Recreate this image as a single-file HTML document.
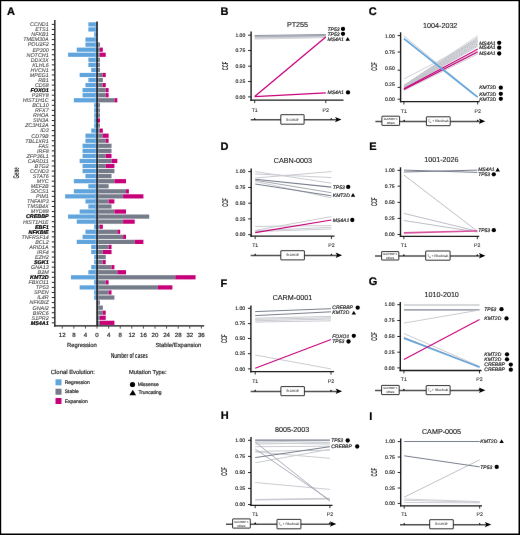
<!DOCTYPE html><html><head><meta charset="utf-8"><style>html,body{margin:0;padding:0;background:#fff;}svg{display:block;font-family:"Liberation Sans",sans-serif;text-rendering:geometricPrecision;}#w{width:520px;height:535px;overflow:hidden;will-change:transform;}</style></head><body>
<div id="w"><svg width="520" height="535" viewBox="0 0 520 535">
<defs><filter id="bl" x="0" y="0" width="520" height="535" filterUnits="userSpaceOnUse" color-interpolation-filters="sRGB"><feConvolveMatrix order="3" kernelMatrix="0.00087 0.02776 0.00087 0.02776 0.88549 0.02776 0.00087 0.02776 0.00087" preserveAlpha="false" edgeMode="duplicate"/></filter></defs>
<rect x="0" y="0" width="520" height="535" fill="#fff"/>
<g filter="url(#bl)">
<text x="6.90" y="14.78" font-size="11" text-anchor="start" font-weight="bold" font-style="normal" fill="#000" stroke="#000" stroke-width="0.24" >A</text>
<rect x="88.35" y="22.30" width="8.69" height="4.20" fill="#60a4dd" />
<rect x="94.94" y="22.30" width="1.30" height="4.20" fill="#74b5ec" />
<line x1="51.80" y1="24.40" x2="54.40" y2="24.40" stroke="#1a1a1a" stroke-width="0.95" />
<text x="48.70" y="26.26" font-size="5.4" text-anchor="end" font-weight="normal" font-style="italic" fill="#4d4d4d" stroke="#4d4d4d" stroke-width="0.1" >CCND1</text>
<rect x="88.35" y="27.36" width="8.69" height="4.20" fill="#60a4dd" />
<rect x="94.94" y="27.36" width="1.30" height="4.20" fill="#74b5ec" />
<line x1="51.80" y1="29.46" x2="54.40" y2="29.46" stroke="#1a1a1a" stroke-width="0.95" />
<text x="48.70" y="31.32" font-size="5.4" text-anchor="end" font-weight="normal" font-style="italic" fill="#4d4d4d" stroke="#4d4d4d" stroke-width="0.1" >ETS1</text>
<rect x="94.14" y="32.42" width="2.90" height="4.20" fill="#60a4dd" />
<rect x="94.94" y="32.42" width="1.30" height="4.20" fill="#74b5ec" />
<line x1="51.80" y1="34.52" x2="54.40" y2="34.52" stroke="#1a1a1a" stroke-width="0.95" />
<text x="48.70" y="36.37" font-size="5.4" text-anchor="end" font-weight="normal" font-style="italic" fill="#4d4d4d" stroke="#4d4d4d" stroke-width="0.1" >NFKB1</text>
<rect x="85.45" y="37.47" width="11.59" height="4.20" fill="#60a4dd" />
<rect x="94.94" y="37.47" width="1.30" height="4.20" fill="#74b5ec" />
<line x1="51.80" y1="39.57" x2="54.40" y2="39.57" stroke="#1a1a1a" stroke-width="0.95" />
<text x="48.70" y="41.43" font-size="5.4" text-anchor="end" font-weight="normal" font-style="italic" fill="#4d4d4d" stroke="#4d4d4d" stroke-width="0.1" >TMEM30A</text>
<rect x="85.45" y="42.53" width="11.59" height="4.20" fill="#60a4dd" />
<rect x="94.94" y="42.53" width="1.30" height="4.20" fill="#74b5ec" />
<rect x="97.04" y="42.53" width="2.90" height="4.20" fill="#767b89" />
<rect x="97.84" y="42.53" width="1.00" height="4.20" fill="#9296a3" />
<line x1="51.80" y1="44.63" x2="54.40" y2="44.63" stroke="#1a1a1a" stroke-width="0.95" />
<text x="48.70" y="46.49" font-size="5.4" text-anchor="end" font-weight="normal" font-style="italic" fill="#4d4d4d" stroke="#4d4d4d" stroke-width="0.1" >POU2F2</text>
<rect x="76.75" y="47.59" width="20.29" height="4.20" fill="#60a4dd" />
<rect x="94.94" y="47.59" width="1.30" height="4.20" fill="#74b5ec" />
<rect x="97.04" y="47.59" width="2.90" height="4.20" fill="#767b89" />
<rect x="97.84" y="47.59" width="1.00" height="4.20" fill="#9296a3" />
<rect x="99.94" y="47.59" width="2.90" height="4.20" fill="#c7007a" />
<line x1="51.80" y1="49.69" x2="54.40" y2="49.69" stroke="#1a1a1a" stroke-width="0.95" />
<text x="48.70" y="51.55" font-size="5.4" text-anchor="end" font-weight="normal" font-style="italic" fill="#4d4d4d" stroke="#4d4d4d" stroke-width="0.1" >EP300</text>
<rect x="68.06" y="52.65" width="28.98" height="4.20" fill="#60a4dd" />
<rect x="94.94" y="52.65" width="1.30" height="4.20" fill="#74b5ec" />
<rect x="97.04" y="52.65" width="2.90" height="4.20" fill="#767b89" />
<rect x="97.84" y="52.65" width="1.00" height="4.20" fill="#9296a3" />
<rect x="99.94" y="52.65" width="5.80" height="4.20" fill="#c7007a" />
<line x1="51.80" y1="54.75" x2="54.40" y2="54.75" stroke="#1a1a1a" stroke-width="0.95" />
<text x="48.70" y="56.61" font-size="5.4" text-anchor="end" font-weight="normal" font-style="italic" fill="#4d4d4d" stroke="#4d4d4d" stroke-width="0.1" >NOTCH1</text>
<rect x="88.35" y="57.71" width="8.69" height="4.20" fill="#60a4dd" />
<rect x="94.94" y="57.71" width="1.30" height="4.20" fill="#74b5ec" />
<rect x="97.04" y="57.71" width="2.90" height="4.20" fill="#767b89" />
<rect x="97.84" y="57.71" width="1.00" height="4.20" fill="#9296a3" />
<line x1="51.80" y1="59.81" x2="54.40" y2="59.81" stroke="#1a1a1a" stroke-width="0.95" />
<text x="48.70" y="61.66" font-size="5.4" text-anchor="end" font-weight="normal" font-style="italic" fill="#4d4d4d" stroke="#4d4d4d" stroke-width="0.1" >DDX3X</text>
<rect x="88.35" y="62.76" width="8.69" height="4.20" fill="#60a4dd" />
<rect x="94.94" y="62.76" width="1.30" height="4.20" fill="#74b5ec" />
<rect x="97.04" y="62.76" width="2.90" height="4.20" fill="#767b89" />
<rect x="97.84" y="62.76" width="1.00" height="4.20" fill="#9296a3" />
<line x1="51.80" y1="64.86" x2="54.40" y2="64.86" stroke="#1a1a1a" stroke-width="0.95" />
<text x="48.70" y="66.72" font-size="5.4" text-anchor="end" font-weight="normal" font-style="italic" fill="#4d4d4d" stroke="#4d4d4d" stroke-width="0.1" >KLHL6</text>
<rect x="91.24" y="67.82" width="5.80" height="4.20" fill="#60a4dd" />
<rect x="94.94" y="67.82" width="1.30" height="4.20" fill="#74b5ec" />
<rect x="97.04" y="67.82" width="2.90" height="4.20" fill="#767b89" />
<rect x="97.84" y="67.82" width="1.00" height="4.20" fill="#9296a3" />
<line x1="51.80" y1="69.92" x2="54.40" y2="69.92" stroke="#1a1a1a" stroke-width="0.95" />
<text x="48.70" y="71.78" font-size="5.4" text-anchor="end" font-weight="normal" font-style="italic" fill="#4d4d4d" stroke="#4d4d4d" stroke-width="0.1" >HVCN1</text>
<rect x="79.65" y="72.88" width="17.39" height="4.20" fill="#60a4dd" />
<rect x="94.94" y="72.88" width="1.30" height="4.20" fill="#74b5ec" />
<rect x="97.04" y="72.88" width="5.80" height="4.20" fill="#767b89" />
<rect x="97.84" y="72.88" width="1.00" height="4.20" fill="#9296a3" />
<rect x="102.84" y="72.88" width="2.90" height="4.20" fill="#c7007a" />
<line x1="51.80" y1="74.98" x2="54.40" y2="74.98" stroke="#1a1a1a" stroke-width="0.95" />
<text x="48.70" y="76.84" font-size="5.4" text-anchor="end" font-weight="normal" font-style="italic" fill="#4d4d4d" stroke="#4d4d4d" stroke-width="0.1" >MPEG1</text>
<rect x="88.35" y="77.94" width="8.69" height="4.20" fill="#60a4dd" />
<rect x="94.94" y="77.94" width="1.30" height="4.20" fill="#74b5ec" />
<rect x="97.04" y="77.94" width="5.80" height="4.20" fill="#767b89" />
<rect x="97.84" y="77.94" width="1.00" height="4.20" fill="#9296a3" />
<line x1="51.80" y1="80.04" x2="54.40" y2="80.04" stroke="#1a1a1a" stroke-width="0.95" />
<text x="48.70" y="81.90" font-size="5.4" text-anchor="end" font-weight="normal" font-style="italic" fill="#4d4d4d" stroke="#4d4d4d" stroke-width="0.1" >RB1</text>
<rect x="85.45" y="83.00" width="11.59" height="4.20" fill="#60a4dd" />
<rect x="94.94" y="83.00" width="1.30" height="4.20" fill="#74b5ec" />
<rect x="97.04" y="83.00" width="5.80" height="4.20" fill="#767b89" />
<rect x="97.84" y="83.00" width="1.00" height="4.20" fill="#9296a3" />
<rect x="102.84" y="83.00" width="2.90" height="4.20" fill="#c7007a" />
<line x1="51.80" y1="85.10" x2="54.40" y2="85.10" stroke="#1a1a1a" stroke-width="0.95" />
<text x="48.70" y="86.95" font-size="5.4" text-anchor="end" font-weight="normal" font-style="italic" fill="#4d4d4d" stroke="#4d4d4d" stroke-width="0.1" >CD58</text>
<rect x="82.55" y="88.05" width="14.49" height="4.20" fill="#60a4dd" />
<rect x="94.94" y="88.05" width="1.30" height="4.20" fill="#74b5ec" />
<rect x="97.04" y="88.05" width="8.69" height="4.20" fill="#767b89" />
<rect x="97.84" y="88.05" width="1.00" height="4.20" fill="#9296a3" />
<rect x="105.73" y="88.05" width="2.90" height="4.20" fill="#c7007a" />
<line x1="51.80" y1="90.15" x2="54.40" y2="90.15" stroke="#1a1a1a" stroke-width="0.95" />
<text x="48.70" y="92.01" font-size="5.4" text-anchor="end" font-weight="bold" font-style="italic" fill="#000" stroke="#000" stroke-width="0.22" >FOXO1</text>
<rect x="82.55" y="93.11" width="14.49" height="4.20" fill="#60a4dd" />
<rect x="94.94" y="93.11" width="1.30" height="4.20" fill="#74b5ec" />
<rect x="97.04" y="93.11" width="8.69" height="4.20" fill="#767b89" />
<rect x="97.84" y="93.11" width="1.00" height="4.20" fill="#9296a3" />
<rect x="105.73" y="93.11" width="2.90" height="4.20" fill="#c7007a" />
<line x1="51.80" y1="95.21" x2="54.40" y2="95.21" stroke="#1a1a1a" stroke-width="0.95" />
<text x="48.70" y="97.07" font-size="5.4" text-anchor="end" font-weight="normal" font-style="italic" fill="#4d4d4d" stroke="#4d4d4d" stroke-width="0.1" >P2RY8</text>
<rect x="73.86" y="98.17" width="23.18" height="4.20" fill="#60a4dd" />
<rect x="94.94" y="98.17" width="1.30" height="4.20" fill="#74b5ec" />
<rect x="97.04" y="98.17" width="17.39" height="4.20" fill="#767b89" />
<rect x="97.84" y="98.17" width="1.00" height="4.20" fill="#9296a3" />
<rect x="114.43" y="98.17" width="2.90" height="4.20" fill="#c7007a" />
<line x1="51.80" y1="100.27" x2="54.40" y2="100.27" stroke="#1a1a1a" stroke-width="0.95" />
<text x="48.70" y="102.13" font-size="5.4" text-anchor="end" font-weight="normal" font-style="italic" fill="#4d4d4d" stroke="#4d4d4d" stroke-width="0.1" >HIST1H1C</text>
<rect x="94.14" y="103.23" width="2.90" height="4.20" fill="#60a4dd" />
<rect x="94.94" y="103.23" width="1.30" height="4.20" fill="#74b5ec" />
<rect x="97.04" y="103.23" width="2.90" height="4.20" fill="#767b89" />
<rect x="97.84" y="103.23" width="1.00" height="4.20" fill="#9296a3" />
<line x1="51.80" y1="105.33" x2="54.40" y2="105.33" stroke="#1a1a1a" stroke-width="0.95" />
<text x="48.70" y="107.19" font-size="5.4" text-anchor="end" font-weight="normal" font-style="italic" fill="#4d4d4d" stroke="#4d4d4d" stroke-width="0.1" >BCL10</text>
<rect x="94.14" y="108.29" width="2.90" height="4.20" fill="#60a4dd" />
<rect x="94.94" y="108.29" width="1.30" height="4.20" fill="#74b5ec" />
<rect x="97.04" y="108.29" width="2.90" height="4.20" fill="#767b89" />
<rect x="97.84" y="108.29" width="1.00" height="4.20" fill="#9296a3" />
<line x1="51.80" y1="110.39" x2="54.40" y2="110.39" stroke="#1a1a1a" stroke-width="0.95" />
<text x="48.70" y="112.24" font-size="5.4" text-anchor="end" font-weight="normal" font-style="italic" fill="#4d4d4d" stroke="#4d4d4d" stroke-width="0.1" >RFX7</text>
<rect x="94.14" y="113.34" width="2.90" height="4.20" fill="#60a4dd" />
<rect x="94.94" y="113.34" width="1.30" height="4.20" fill="#74b5ec" />
<rect x="97.04" y="113.34" width="2.90" height="4.20" fill="#767b89" />
<rect x="97.84" y="113.34" width="1.00" height="4.20" fill="#9296a3" />
<line x1="51.80" y1="115.44" x2="54.40" y2="115.44" stroke="#1a1a1a" stroke-width="0.95" />
<text x="48.70" y="117.30" font-size="5.4" text-anchor="end" font-weight="normal" font-style="italic" fill="#4d4d4d" stroke="#4d4d4d" stroke-width="0.1" >RHOA</text>
<rect x="94.14" y="118.40" width="2.90" height="4.20" fill="#60a4dd" />
<rect x="94.94" y="118.40" width="1.30" height="4.20" fill="#74b5ec" />
<rect x="97.04" y="118.40" width="2.90" height="4.20" fill="#c7007a" />
<line x1="51.80" y1="120.50" x2="54.40" y2="120.50" stroke="#1a1a1a" stroke-width="0.95" />
<text x="48.70" y="122.36" font-size="5.4" text-anchor="end" font-weight="normal" font-style="italic" fill="#4d4d4d" stroke="#4d4d4d" stroke-width="0.1" >SIN3A</text>
<rect x="94.14" y="123.46" width="2.90" height="4.20" fill="#60a4dd" />
<rect x="94.94" y="123.46" width="1.30" height="4.20" fill="#74b5ec" />
<rect x="97.04" y="123.46" width="2.90" height="4.20" fill="#767b89" />
<rect x="97.84" y="123.46" width="1.00" height="4.20" fill="#9296a3" />
<line x1="51.80" y1="125.56" x2="54.40" y2="125.56" stroke="#1a1a1a" stroke-width="0.95" />
<text x="48.70" y="127.42" font-size="5.4" text-anchor="end" font-weight="normal" font-style="italic" fill="#4d4d4d" stroke="#4d4d4d" stroke-width="0.1" >ZC3H12A</text>
<rect x="91.24" y="128.52" width="5.80" height="4.20" fill="#60a4dd" />
<rect x="94.94" y="128.52" width="1.30" height="4.20" fill="#74b5ec" />
<rect x="97.04" y="128.52" width="2.90" height="4.20" fill="#767b89" />
<rect x="97.84" y="128.52" width="1.00" height="4.20" fill="#9296a3" />
<rect x="99.94" y="128.52" width="2.90" height="4.20" fill="#c7007a" />
<line x1="51.80" y1="130.62" x2="54.40" y2="130.62" stroke="#1a1a1a" stroke-width="0.95" />
<text x="48.70" y="132.48" font-size="5.4" text-anchor="end" font-weight="normal" font-style="italic" fill="#4d4d4d" stroke="#4d4d4d" stroke-width="0.1" >ID3</text>
<rect x="85.45" y="133.58" width="11.59" height="4.20" fill="#60a4dd" />
<rect x="94.94" y="133.58" width="1.30" height="4.20" fill="#74b5ec" />
<rect x="97.04" y="133.58" width="5.80" height="4.20" fill="#767b89" />
<rect x="97.84" y="133.58" width="1.00" height="4.20" fill="#9296a3" />
<rect x="102.84" y="133.58" width="5.80" height="4.20" fill="#c7007a" />
<line x1="51.80" y1="135.68" x2="54.40" y2="135.68" stroke="#1a1a1a" stroke-width="0.95" />
<text x="48.70" y="137.53" font-size="5.4" text-anchor="end" font-weight="normal" font-style="italic" fill="#4d4d4d" stroke="#4d4d4d" stroke-width="0.1" >CD79B</text>
<rect x="85.45" y="138.63" width="11.59" height="4.20" fill="#60a4dd" />
<rect x="94.94" y="138.63" width="1.30" height="4.20" fill="#74b5ec" />
<rect x="97.04" y="138.63" width="8.69" height="4.20" fill="#767b89" />
<rect x="97.84" y="138.63" width="1.00" height="4.20" fill="#9296a3" />
<rect x="105.73" y="138.63" width="2.90" height="4.20" fill="#c7007a" />
<line x1="51.80" y1="140.73" x2="54.40" y2="140.73" stroke="#1a1a1a" stroke-width="0.95" />
<text x="48.70" y="142.59" font-size="5.4" text-anchor="end" font-weight="normal" font-style="italic" fill="#4d4d4d" stroke="#4d4d4d" stroke-width="0.1" >TBL1XR1</text>
<rect x="82.55" y="143.69" width="14.49" height="4.20" fill="#60a4dd" />
<rect x="94.94" y="143.69" width="1.30" height="4.20" fill="#74b5ec" />
<rect x="97.04" y="143.69" width="14.49" height="4.20" fill="#767b89" />
<rect x="97.84" y="143.69" width="1.00" height="4.20" fill="#9296a3" />
<line x1="51.80" y1="145.79" x2="54.40" y2="145.79" stroke="#1a1a1a" stroke-width="0.95" />
<text x="48.70" y="147.65" font-size="5.4" text-anchor="end" font-weight="normal" font-style="italic" fill="#4d4d4d" stroke="#4d4d4d" stroke-width="0.1" >FAS</text>
<rect x="82.55" y="148.75" width="14.49" height="4.20" fill="#60a4dd" />
<rect x="94.94" y="148.75" width="1.30" height="4.20" fill="#74b5ec" />
<rect x="97.04" y="148.75" width="14.49" height="4.20" fill="#767b89" />
<rect x="97.84" y="148.75" width="1.00" height="4.20" fill="#9296a3" />
<line x1="51.80" y1="150.85" x2="54.40" y2="150.85" stroke="#1a1a1a" stroke-width="0.95" />
<text x="48.70" y="152.71" font-size="5.4" text-anchor="end" font-weight="normal" font-style="italic" fill="#4d4d4d" stroke="#4d4d4d" stroke-width="0.1" >IRF8</text>
<rect x="82.55" y="153.81" width="14.49" height="4.20" fill="#60a4dd" />
<rect x="94.94" y="153.81" width="1.30" height="4.20" fill="#74b5ec" />
<rect x="97.04" y="153.81" width="8.69" height="4.20" fill="#767b89" />
<rect x="97.84" y="153.81" width="1.00" height="4.20" fill="#9296a3" />
<rect x="105.73" y="153.81" width="5.80" height="4.20" fill="#c7007a" />
<line x1="51.80" y1="155.91" x2="54.40" y2="155.91" stroke="#1a1a1a" stroke-width="0.95" />
<text x="48.70" y="157.77" font-size="5.4" text-anchor="end" font-weight="normal" font-style="italic" fill="#4d4d4d" stroke="#4d4d4d" stroke-width="0.1" >ZFP36L1</text>
<rect x="79.65" y="158.87" width="17.39" height="4.20" fill="#60a4dd" />
<rect x="94.94" y="158.87" width="1.30" height="4.20" fill="#74b5ec" />
<rect x="97.04" y="158.87" width="14.49" height="4.20" fill="#767b89" />
<rect x="97.84" y="158.87" width="1.00" height="4.20" fill="#9296a3" />
<rect x="111.53" y="158.87" width="5.80" height="4.20" fill="#c7007a" />
<line x1="51.80" y1="160.97" x2="54.40" y2="160.97" stroke="#1a1a1a" stroke-width="0.95" />
<text x="48.70" y="162.82" font-size="5.4" text-anchor="end" font-weight="normal" font-style="italic" fill="#4d4d4d" stroke="#4d4d4d" stroke-width="0.1" >CARD11</text>
<rect x="82.55" y="163.92" width="14.49" height="4.20" fill="#60a4dd" />
<rect x="94.94" y="163.92" width="1.30" height="4.20" fill="#74b5ec" />
<rect x="97.04" y="163.92" width="8.69" height="4.20" fill="#767b89" />
<rect x="97.84" y="163.92" width="1.00" height="4.20" fill="#9296a3" />
<rect x="105.73" y="163.92" width="8.69" height="4.20" fill="#c7007a" />
<line x1="51.80" y1="166.02" x2="54.40" y2="166.02" stroke="#1a1a1a" stroke-width="0.95" />
<text x="48.70" y="167.88" font-size="5.4" text-anchor="end" font-weight="normal" font-style="italic" fill="#4d4d4d" stroke="#4d4d4d" stroke-width="0.1" >BTG2</text>
<rect x="82.55" y="168.98" width="14.49" height="4.20" fill="#60a4dd" />
<rect x="94.94" y="168.98" width="1.30" height="4.20" fill="#74b5ec" />
<rect x="97.04" y="168.98" width="17.39" height="4.20" fill="#767b89" />
<rect x="97.84" y="168.98" width="1.00" height="4.20" fill="#9296a3" />
<line x1="51.80" y1="171.08" x2="54.40" y2="171.08" stroke="#1a1a1a" stroke-width="0.95" />
<text x="48.70" y="172.94" font-size="5.4" text-anchor="end" font-weight="normal" font-style="italic" fill="#4d4d4d" stroke="#4d4d4d" stroke-width="0.1" >CCND3</text>
<rect x="85.45" y="174.04" width="11.59" height="4.20" fill="#60a4dd" />
<rect x="94.94" y="174.04" width="1.30" height="4.20" fill="#74b5ec" />
<rect x="97.04" y="174.04" width="14.49" height="4.20" fill="#767b89" />
<rect x="97.84" y="174.04" width="1.00" height="4.20" fill="#9296a3" />
<line x1="51.80" y1="176.14" x2="54.40" y2="176.14" stroke="#1a1a1a" stroke-width="0.95" />
<text x="48.70" y="178.00" font-size="5.4" text-anchor="end" font-weight="normal" font-style="italic" fill="#4d4d4d" stroke="#4d4d4d" stroke-width="0.1" >STAT6</text>
<rect x="73.86" y="179.10" width="23.18" height="4.20" fill="#60a4dd" />
<rect x="94.94" y="179.10" width="1.30" height="4.20" fill="#74b5ec" />
<rect x="97.04" y="179.10" width="17.39" height="4.20" fill="#767b89" />
<rect x="97.84" y="179.10" width="1.00" height="4.20" fill="#9296a3" />
<rect x="114.43" y="179.10" width="11.59" height="4.20" fill="#c7007a" />
<line x1="51.80" y1="181.20" x2="54.40" y2="181.20" stroke="#1a1a1a" stroke-width="0.95" />
<text x="48.70" y="183.06" font-size="5.4" text-anchor="end" font-weight="normal" font-style="italic" fill="#4d4d4d" stroke="#4d4d4d" stroke-width="0.1" >MYC</text>
<rect x="88.35" y="184.16" width="8.69" height="4.20" fill="#60a4dd" />
<rect x="94.94" y="184.16" width="1.30" height="4.20" fill="#74b5ec" />
<rect x="97.04" y="184.16" width="11.59" height="4.20" fill="#767b89" />
<rect x="97.84" y="184.16" width="1.00" height="4.20" fill="#9296a3" />
<line x1="51.80" y1="186.26" x2="54.40" y2="186.26" stroke="#1a1a1a" stroke-width="0.95" />
<text x="48.70" y="188.11" font-size="5.4" text-anchor="end" font-weight="normal" font-style="italic" fill="#4d4d4d" stroke="#4d4d4d" stroke-width="0.1" >MEF2B</text>
<rect x="73.86" y="189.21" width="23.18" height="4.20" fill="#60a4dd" />
<rect x="94.94" y="189.21" width="1.30" height="4.20" fill="#74b5ec" />
<rect x="97.04" y="189.21" width="28.98" height="4.20" fill="#767b89" />
<rect x="97.84" y="189.21" width="1.00" height="4.20" fill="#9296a3" />
<rect x="126.02" y="189.21" width="2.90" height="4.20" fill="#c7007a" />
<line x1="51.80" y1="191.31" x2="54.40" y2="191.31" stroke="#1a1a1a" stroke-width="0.95" />
<text x="48.70" y="193.17" font-size="5.4" text-anchor="end" font-weight="normal" font-style="italic" fill="#4d4d4d" stroke="#4d4d4d" stroke-width="0.1" >SOCS1</text>
<rect x="65.16" y="194.27" width="31.88" height="4.20" fill="#60a4dd" />
<rect x="94.94" y="194.27" width="1.30" height="4.20" fill="#74b5ec" />
<rect x="97.04" y="194.27" width="26.08" height="4.20" fill="#767b89" />
<rect x="97.84" y="194.27" width="1.00" height="4.20" fill="#9296a3" />
<rect x="123.12" y="194.27" width="20.29" height="4.20" fill="#c7007a" />
<line x1="51.80" y1="196.37" x2="54.40" y2="196.37" stroke="#1a1a1a" stroke-width="0.95" />
<text x="48.70" y="198.23" font-size="5.4" text-anchor="end" font-weight="normal" font-style="italic" fill="#4d4d4d" stroke="#4d4d4d" stroke-width="0.1" >PIM1</text>
<rect x="85.45" y="199.33" width="11.59" height="4.20" fill="#60a4dd" />
<rect x="94.94" y="199.33" width="1.30" height="4.20" fill="#74b5ec" />
<rect x="97.04" y="199.33" width="11.59" height="4.20" fill="#767b89" />
<rect x="97.84" y="199.33" width="1.00" height="4.20" fill="#9296a3" />
<rect x="108.63" y="199.33" width="5.80" height="4.20" fill="#c7007a" />
<line x1="51.80" y1="201.43" x2="54.40" y2="201.43" stroke="#1a1a1a" stroke-width="0.95" />
<text x="48.70" y="203.29" font-size="5.4" text-anchor="end" font-weight="normal" font-style="italic" fill="#4d4d4d" stroke="#4d4d4d" stroke-width="0.1" >TNFAIP3</text>
<rect x="88.35" y="204.39" width="8.69" height="4.20" fill="#60a4dd" />
<rect x="94.94" y="204.39" width="1.30" height="4.20" fill="#74b5ec" />
<rect x="97.04" y="204.39" width="14.49" height="4.20" fill="#767b89" />
<rect x="97.84" y="204.39" width="1.00" height="4.20" fill="#9296a3" />
<line x1="51.80" y1="206.49" x2="54.40" y2="206.49" stroke="#1a1a1a" stroke-width="0.95" />
<text x="48.70" y="208.35" font-size="5.4" text-anchor="end" font-weight="normal" font-style="italic" fill="#4d4d4d" stroke="#4d4d4d" stroke-width="0.1" >TMSB4X</text>
<rect x="79.65" y="209.45" width="17.39" height="4.20" fill="#60a4dd" />
<rect x="94.94" y="209.45" width="1.30" height="4.20" fill="#74b5ec" />
<rect x="97.04" y="209.45" width="17.39" height="4.20" fill="#767b89" />
<rect x="97.84" y="209.45" width="1.00" height="4.20" fill="#9296a3" />
<rect x="114.43" y="209.45" width="11.59" height="4.20" fill="#c7007a" />
<line x1="51.80" y1="211.55" x2="54.40" y2="211.55" stroke="#1a1a1a" stroke-width="0.95" />
<text x="48.70" y="213.40" font-size="5.4" text-anchor="end" font-weight="normal" font-style="italic" fill="#4d4d4d" stroke="#4d4d4d" stroke-width="0.1" >MYD88</text>
<rect x="68.06" y="214.50" width="28.98" height="4.20" fill="#60a4dd" />
<rect x="94.94" y="214.50" width="1.30" height="4.20" fill="#74b5ec" />
<rect x="97.04" y="214.50" width="52.16" height="4.20" fill="#767b89" />
<rect x="97.84" y="214.50" width="1.00" height="4.20" fill="#9296a3" />
<line x1="51.80" y1="216.60" x2="54.40" y2="216.60" stroke="#1a1a1a" stroke-width="0.95" />
<text x="48.70" y="218.46" font-size="5.4" text-anchor="end" font-weight="bold" font-style="italic" fill="#000" stroke="#000" stroke-width="0.22" >CREBBP</text>
<rect x="76.75" y="219.56" width="20.29" height="4.20" fill="#60a4dd" />
<rect x="94.94" y="219.56" width="1.30" height="4.20" fill="#74b5ec" />
<rect x="97.04" y="219.56" width="26.08" height="4.20" fill="#767b89" />
<rect x="97.84" y="219.56" width="1.00" height="4.20" fill="#9296a3" />
<rect x="123.12" y="219.56" width="11.59" height="4.20" fill="#c7007a" />
<line x1="51.80" y1="221.66" x2="54.40" y2="221.66" stroke="#1a1a1a" stroke-width="0.95" />
<text x="48.70" y="223.52" font-size="5.4" text-anchor="end" font-weight="normal" font-style="italic" fill="#4d4d4d" stroke="#4d4d4d" stroke-width="0.1" >HIST1H1E</text>
<rect x="94.14" y="224.62" width="2.90" height="4.20" fill="#60a4dd" />
<rect x="94.94" y="224.62" width="1.30" height="4.20" fill="#74b5ec" />
<rect x="97.04" y="224.62" width="2.90" height="4.20" fill="#767b89" />
<rect x="97.84" y="224.62" width="1.00" height="4.20" fill="#9296a3" />
<rect x="99.94" y="224.62" width="2.90" height="4.20" fill="#c7007a" />
<line x1="51.80" y1="226.72" x2="54.40" y2="226.72" stroke="#1a1a1a" stroke-width="0.95" />
<text x="48.70" y="228.58" font-size="5.4" text-anchor="end" font-weight="bold" font-style="italic" fill="#000" stroke="#000" stroke-width="0.22" >EBF1</text>
<rect x="85.45" y="229.68" width="11.59" height="4.20" fill="#60a4dd" />
<rect x="94.94" y="229.68" width="1.30" height="4.20" fill="#74b5ec" />
<rect x="97.04" y="229.68" width="20.29" height="4.20" fill="#767b89" />
<rect x="97.84" y="229.68" width="1.00" height="4.20" fill="#9296a3" />
<rect x="117.33" y="229.68" width="2.90" height="4.20" fill="#c7007a" />
<line x1="51.80" y1="231.78" x2="54.40" y2="231.78" stroke="#1a1a1a" stroke-width="0.95" />
<text x="48.70" y="233.64" font-size="5.4" text-anchor="end" font-weight="bold" font-style="italic" fill="#000" stroke="#000" stroke-width="0.22" >NFKBIE</text>
<rect x="82.55" y="234.74" width="14.49" height="4.20" fill="#60a4dd" />
<rect x="94.94" y="234.74" width="1.30" height="4.20" fill="#74b5ec" />
<rect x="97.04" y="234.74" width="26.08" height="4.20" fill="#767b89" />
<rect x="97.84" y="234.74" width="1.00" height="4.20" fill="#9296a3" />
<rect x="123.12" y="234.74" width="2.90" height="4.20" fill="#c7007a" />
<line x1="51.80" y1="236.84" x2="54.40" y2="236.84" stroke="#1a1a1a" stroke-width="0.95" />
<text x="48.70" y="238.69" font-size="5.4" text-anchor="end" font-weight="normal" font-style="italic" fill="#4d4d4d" stroke="#4d4d4d" stroke-width="0.1" >TNFRSF14</text>
<rect x="76.75" y="239.79" width="20.29" height="4.20" fill="#60a4dd" />
<rect x="94.94" y="239.79" width="1.30" height="4.20" fill="#74b5ec" />
<rect x="97.04" y="239.79" width="37.67" height="4.20" fill="#767b89" />
<rect x="97.84" y="239.79" width="1.00" height="4.20" fill="#9296a3" />
<rect x="134.71" y="239.79" width="8.69" height="4.20" fill="#c7007a" />
<line x1="51.80" y1="241.89" x2="54.40" y2="241.89" stroke="#1a1a1a" stroke-width="0.95" />
<text x="48.70" y="243.75" font-size="5.4" text-anchor="end" font-weight="normal" font-style="italic" fill="#4d4d4d" stroke="#4d4d4d" stroke-width="0.1" >BCL2</text>
<rect x="91.24" y="244.85" width="5.80" height="4.20" fill="#60a4dd" />
<rect x="94.94" y="244.85" width="1.30" height="4.20" fill="#74b5ec" />
<rect x="97.04" y="244.85" width="11.59" height="4.20" fill="#767b89" />
<rect x="97.84" y="244.85" width="1.00" height="4.20" fill="#9296a3" />
<rect x="108.63" y="244.85" width="2.90" height="4.20" fill="#c7007a" />
<line x1="51.80" y1="246.95" x2="54.40" y2="246.95" stroke="#1a1a1a" stroke-width="0.95" />
<text x="48.70" y="248.81" font-size="5.4" text-anchor="end" font-weight="normal" font-style="italic" fill="#4d4d4d" stroke="#4d4d4d" stroke-width="0.1" >ARID1A</text>
<rect x="91.24" y="249.91" width="5.80" height="4.20" fill="#60a4dd" />
<rect x="94.94" y="249.91" width="1.30" height="4.20" fill="#74b5ec" />
<rect x="97.04" y="249.91" width="5.80" height="4.20" fill="#767b89" />
<rect x="97.84" y="249.91" width="1.00" height="4.20" fill="#9296a3" />
<rect x="102.84" y="249.91" width="8.69" height="4.20" fill="#c7007a" />
<line x1="51.80" y1="252.01" x2="54.40" y2="252.01" stroke="#1a1a1a" stroke-width="0.95" />
<text x="48.70" y="253.87" font-size="5.4" text-anchor="end" font-weight="normal" font-style="italic" fill="#4d4d4d" stroke="#4d4d4d" stroke-width="0.1" >IRF4</text>
<rect x="94.14" y="254.97" width="2.90" height="4.20" fill="#60a4dd" />
<rect x="94.94" y="254.97" width="1.30" height="4.20" fill="#74b5ec" />
<rect x="97.04" y="254.97" width="8.69" height="4.20" fill="#767b89" />
<rect x="97.84" y="254.97" width="1.00" height="4.20" fill="#9296a3" />
<line x1="51.80" y1="257.07" x2="54.40" y2="257.07" stroke="#1a1a1a" stroke-width="0.95" />
<text x="48.70" y="258.93" font-size="5.4" text-anchor="end" font-weight="normal" font-style="italic" fill="#4d4d4d" stroke="#4d4d4d" stroke-width="0.1" >EZH2</text>
<rect x="94.14" y="260.03" width="2.90" height="4.20" fill="#60a4dd" />
<rect x="94.94" y="260.03" width="1.30" height="4.20" fill="#74b5ec" />
<rect x="97.04" y="260.03" width="5.80" height="4.20" fill="#767b89" />
<rect x="97.84" y="260.03" width="1.00" height="4.20" fill="#9296a3" />
<rect x="102.84" y="260.03" width="2.90" height="4.20" fill="#c7007a" />
<line x1="51.80" y1="262.13" x2="54.40" y2="262.13" stroke="#1a1a1a" stroke-width="0.95" />
<text x="48.70" y="263.98" font-size="5.4" text-anchor="end" font-weight="bold" font-style="italic" fill="#000" stroke="#000" stroke-width="0.22" >SGK1</text>
<rect x="91.24" y="265.08" width="5.80" height="4.20" fill="#60a4dd" />
<rect x="94.94" y="265.08" width="1.30" height="4.20" fill="#74b5ec" />
<rect x="97.04" y="265.08" width="14.49" height="4.20" fill="#767b89" />
<rect x="97.84" y="265.08" width="1.00" height="4.20" fill="#9296a3" />
<rect x="111.53" y="265.08" width="2.90" height="4.20" fill="#c7007a" />
<line x1="51.80" y1="267.18" x2="54.40" y2="267.18" stroke="#1a1a1a" stroke-width="0.95" />
<text x="48.70" y="269.04" font-size="5.4" text-anchor="end" font-weight="normal" font-style="italic" fill="#4d4d4d" stroke="#4d4d4d" stroke-width="0.1" >GNA13</text>
<rect x="88.35" y="270.14" width="8.69" height="4.20" fill="#60a4dd" />
<rect x="94.94" y="270.14" width="1.30" height="4.20" fill="#74b5ec" />
<rect x="97.04" y="270.14" width="20.29" height="4.20" fill="#767b89" />
<rect x="97.84" y="270.14" width="1.00" height="4.20" fill="#9296a3" />
<rect x="117.33" y="270.14" width="8.69" height="4.20" fill="#c7007a" />
<line x1="51.80" y1="272.24" x2="54.40" y2="272.24" stroke="#1a1a1a" stroke-width="0.95" />
<text x="48.70" y="274.10" font-size="5.4" text-anchor="end" font-weight="normal" font-style="italic" fill="#4d4d4d" stroke="#4d4d4d" stroke-width="0.1" >B2M</text>
<rect x="70.96" y="275.20" width="26.08" height="4.20" fill="#60a4dd" />
<rect x="94.94" y="275.20" width="1.30" height="4.20" fill="#74b5ec" />
<rect x="97.04" y="275.20" width="78.25" height="4.20" fill="#767b89" />
<rect x="97.84" y="275.20" width="1.00" height="4.20" fill="#9296a3" />
<rect x="175.29" y="275.20" width="20.29" height="4.20" fill="#c7007a" />
<line x1="51.80" y1="277.30" x2="54.40" y2="277.30" stroke="#1a1a1a" stroke-width="0.95" />
<text x="48.70" y="279.16" font-size="5.4" text-anchor="end" font-weight="bold" font-style="italic" fill="#000" stroke="#000" stroke-width="0.22" >KMT2D</text>
<rect x="94.14" y="280.26" width="2.90" height="4.20" fill="#60a4dd" />
<rect x="94.94" y="280.26" width="1.30" height="4.20" fill="#74b5ec" />
<rect x="97.04" y="280.26" width="8.69" height="4.20" fill="#767b89" />
<rect x="97.84" y="280.26" width="1.00" height="4.20" fill="#9296a3" />
<rect x="105.73" y="280.26" width="2.90" height="4.20" fill="#c7007a" />
<line x1="51.80" y1="282.36" x2="54.40" y2="282.36" stroke="#1a1a1a" stroke-width="0.95" />
<text x="48.70" y="284.22" font-size="5.4" text-anchor="end" font-weight="normal" font-style="italic" fill="#4d4d4d" stroke="#4d4d4d" stroke-width="0.1" >FBXO11</text>
<rect x="79.65" y="285.32" width="17.39" height="4.20" fill="#60a4dd" />
<rect x="94.94" y="285.32" width="1.30" height="4.20" fill="#74b5ec" />
<rect x="97.04" y="285.32" width="60.86" height="4.20" fill="#767b89" />
<rect x="97.84" y="285.32" width="1.00" height="4.20" fill="#9296a3" />
<rect x="157.90" y="285.32" width="14.49" height="4.20" fill="#c7007a" />
<line x1="51.80" y1="287.42" x2="54.40" y2="287.42" stroke="#1a1a1a" stroke-width="0.95" />
<text x="48.70" y="289.27" font-size="5.4" text-anchor="end" font-weight="normal" font-style="italic" fill="#4d4d4d" stroke="#4d4d4d" stroke-width="0.1" >TP53</text>
<rect x="94.14" y="290.37" width="2.90" height="4.20" fill="#60a4dd" />
<rect x="94.94" y="290.37" width="1.30" height="4.20" fill="#74b5ec" />
<rect x="97.04" y="290.37" width="11.59" height="4.20" fill="#767b89" />
<rect x="97.84" y="290.37" width="1.00" height="4.20" fill="#9296a3" />
<rect x="108.63" y="290.37" width="2.90" height="4.20" fill="#c7007a" />
<line x1="51.80" y1="292.47" x2="54.40" y2="292.47" stroke="#1a1a1a" stroke-width="0.95" />
<text x="48.70" y="294.33" font-size="5.4" text-anchor="end" font-weight="normal" font-style="italic" fill="#4d4d4d" stroke="#4d4d4d" stroke-width="0.1" >SPEN</text>
<rect x="94.14" y="295.43" width="2.90" height="4.20" fill="#60a4dd" />
<rect x="94.94" y="295.43" width="1.30" height="4.20" fill="#74b5ec" />
<rect x="97.04" y="295.43" width="17.39" height="4.20" fill="#767b89" />
<rect x="97.84" y="295.43" width="1.00" height="4.20" fill="#9296a3" />
<line x1="51.80" y1="297.53" x2="54.40" y2="297.53" stroke="#1a1a1a" stroke-width="0.95" />
<text x="48.70" y="299.39" font-size="5.4" text-anchor="end" font-weight="normal" font-style="italic" fill="#4d4d4d" stroke="#4d4d4d" stroke-width="0.1" >IL4R</text>
<rect x="97.04" y="300.49" width="2.90" height="4.20" fill="#767b89" />
<rect x="97.84" y="300.49" width="1.00" height="4.20" fill="#9296a3" />
<line x1="51.80" y1="302.59" x2="54.40" y2="302.59" stroke="#1a1a1a" stroke-width="0.95" />
<text x="48.70" y="304.45" font-size="5.4" text-anchor="end" font-weight="normal" font-style="italic" fill="#4d4d4d" stroke="#4d4d4d" stroke-width="0.1" >NFKBIZ</text>
<rect x="97.04" y="305.55" width="5.80" height="4.20" fill="#767b89" />
<rect x="97.84" y="305.55" width="1.00" height="4.20" fill="#9296a3" />
<line x1="51.80" y1="307.65" x2="54.40" y2="307.65" stroke="#1a1a1a" stroke-width="0.95" />
<text x="48.70" y="309.51" font-size="5.4" text-anchor="end" font-weight="normal" font-style="italic" fill="#4d4d4d" stroke="#4d4d4d" stroke-width="0.1" >GNAI2</text>
<rect x="97.04" y="310.61" width="5.80" height="4.20" fill="#767b89" />
<rect x="97.84" y="310.61" width="1.00" height="4.20" fill="#9296a3" />
<rect x="102.84" y="310.61" width="2.90" height="4.20" fill="#c7007a" />
<line x1="51.80" y1="312.71" x2="54.40" y2="312.71" stroke="#1a1a1a" stroke-width="0.95" />
<text x="48.70" y="314.56" font-size="5.4" text-anchor="end" font-weight="normal" font-style="italic" fill="#4d4d4d" stroke="#4d4d4d" stroke-width="0.1" >BIRC6</text>
<rect x="97.04" y="315.66" width="2.90" height="4.20" fill="#767b89" />
<rect x="97.84" y="315.66" width="1.00" height="4.20" fill="#9296a3" />
<rect x="99.94" y="315.66" width="5.80" height="4.20" fill="#c7007a" />
<line x1="51.80" y1="317.76" x2="54.40" y2="317.76" stroke="#1a1a1a" stroke-width="0.95" />
<text x="48.70" y="319.62" font-size="5.4" text-anchor="end" font-weight="normal" font-style="italic" fill="#4d4d4d" stroke="#4d4d4d" stroke-width="0.1" >S1PR2</text>
<rect x="97.04" y="320.72" width="2.90" height="4.20" fill="#767b89" />
<rect x="97.84" y="320.72" width="1.00" height="4.20" fill="#9296a3" />
<rect x="99.94" y="320.72" width="14.49" height="4.20" fill="#c7007a" />
<line x1="51.80" y1="322.82" x2="54.40" y2="322.82" stroke="#1a1a1a" stroke-width="0.95" />
<text x="48.70" y="324.68" font-size="5.4" text-anchor="end" font-weight="bold" font-style="italic" fill="#000" stroke="#000" stroke-width="0.22" >MS4A1</text>
<line x1="97.05" y1="21.50" x2="97.05" y2="325.80" stroke="#151515" stroke-width="1.5" />
<line x1="54.85" y1="20.00" x2="54.85" y2="326.40" stroke="#111" stroke-width="1.3" />
<line x1="54.20" y1="325.85" x2="204.20" y2="325.85" stroke="#111" stroke-width="1.3" />
<line x1="62.26" y1="326.30" x2="62.26" y2="328.60" stroke="#222" stroke-width="0.8" />
<text x="62.26" y="337.20" font-size="6.1" text-anchor="middle" font-weight="normal" font-style="normal" fill="#333" stroke="#333" stroke-width="0.24" >12</text>
<line x1="73.86" y1="326.30" x2="73.86" y2="328.60" stroke="#222" stroke-width="0.8" />
<text x="73.86" y="337.20" font-size="6.1" text-anchor="middle" font-weight="normal" font-style="normal" fill="#333" stroke="#333" stroke-width="0.24" >8</text>
<line x1="85.45" y1="326.30" x2="85.45" y2="328.60" stroke="#222" stroke-width="0.8" />
<text x="85.45" y="337.20" font-size="6.1" text-anchor="middle" font-weight="normal" font-style="normal" fill="#333" stroke="#333" stroke-width="0.24" >4</text>
<line x1="97.04" y1="326.30" x2="97.04" y2="328.60" stroke="#222" stroke-width="0.8" />
<text x="97.04" y="337.20" font-size="6.1" text-anchor="middle" font-weight="normal" font-style="normal" fill="#333" stroke="#333" stroke-width="0.24" >0</text>
<line x1="108.63" y1="326.30" x2="108.63" y2="328.60" stroke="#222" stroke-width="0.8" />
<text x="108.63" y="337.20" font-size="6.1" text-anchor="middle" font-weight="normal" font-style="normal" fill="#333" stroke="#333" stroke-width="0.24" >4</text>
<line x1="120.22" y1="326.30" x2="120.22" y2="328.60" stroke="#222" stroke-width="0.8" />
<text x="120.22" y="337.20" font-size="6.1" text-anchor="middle" font-weight="normal" font-style="normal" fill="#333" stroke="#333" stroke-width="0.24" >8</text>
<line x1="131.82" y1="326.30" x2="131.82" y2="328.60" stroke="#222" stroke-width="0.8" />
<text x="131.82" y="337.20" font-size="6.1" text-anchor="middle" font-weight="normal" font-style="normal" fill="#333" stroke="#333" stroke-width="0.24" >12</text>
<line x1="143.41" y1="326.30" x2="143.41" y2="328.60" stroke="#222" stroke-width="0.8" />
<text x="143.41" y="337.20" font-size="6.1" text-anchor="middle" font-weight="normal" font-style="normal" fill="#333" stroke="#333" stroke-width="0.24" >16</text>
<line x1="155.00" y1="326.30" x2="155.00" y2="328.60" stroke="#222" stroke-width="0.8" />
<text x="155.00" y="337.20" font-size="6.1" text-anchor="middle" font-weight="normal" font-style="normal" fill="#333" stroke="#333" stroke-width="0.24" >20</text>
<line x1="166.59" y1="326.30" x2="166.59" y2="328.60" stroke="#222" stroke-width="0.8" />
<text x="166.59" y="337.20" font-size="6.1" text-anchor="middle" font-weight="normal" font-style="normal" fill="#333" stroke="#333" stroke-width="0.24" >24</text>
<line x1="178.18" y1="326.30" x2="178.18" y2="328.60" stroke="#222" stroke-width="0.8" />
<text x="178.18" y="337.20" font-size="6.1" text-anchor="middle" font-weight="normal" font-style="normal" fill="#333" stroke="#333" stroke-width="0.24" >28</text>
<line x1="189.78" y1="326.30" x2="189.78" y2="328.60" stroke="#222" stroke-width="0.8" />
<text x="189.78" y="337.20" font-size="6.1" text-anchor="middle" font-weight="normal" font-style="normal" fill="#333" stroke="#333" stroke-width="0.24" >32</text>
<line x1="201.37" y1="326.30" x2="201.37" y2="328.60" stroke="#222" stroke-width="0.8" />
<text x="201.37" y="337.20" font-size="6.1" text-anchor="middle" font-weight="normal" font-style="normal" fill="#333" stroke="#333" stroke-width="0.24" >36</text>
<text x="66.90" y="346.83" font-size="5.9" text-anchor="start" font-weight="normal" font-style="normal" fill="#333" stroke="#333" stroke-width="0.24" >Regression</text>
<text x="155.40" y="347.23" font-size="5.9" text-anchor="start" font-weight="normal" font-style="normal" fill="#333" stroke="#333" stroke-width="0.24" >Stable/Expansion</text>
<text x="0" y="0" font-size="7.3" font-weight="bold" fill="#151515" transform="translate(111,357.71) scale(0.626,1)">Number of cases</text>
<text x="0" y="0" font-size="8.4" font-weight="bold" fill="#2a2a2a" text-anchor="middle" transform="translate(18.89,172.9) rotate(-90) scale(0.53,1)">Gene</text>
<text x="50.80" y="374.33" font-size="5.9" text-anchor="start" font-weight="normal" font-style="normal" fill="#333" stroke="#333" stroke-width="0.24" >Clonal Evolution:</text>
<rect x="55.50" y="379.30" width="6.00" height="6.00" fill="#60a4dd" />
<rect x="55.50" y="388.70" width="6.00" height="6.00" fill="#767b89" />
<rect x="55.50" y="398.00" width="6.00" height="6.00" fill="#c7007a" />
<text x="64.80" y="384.00" font-size="4.95" text-anchor="start" font-weight="normal" font-style="normal" fill="#333" stroke="#333" stroke-width="0.24" >Regression</text>
<text x="64.80" y="393.40" font-size="4.95" text-anchor="start" font-weight="normal" font-style="normal" fill="#333" stroke="#333" stroke-width="0.24" >Stable</text>
<text x="64.80" y="402.60" font-size="4.95" text-anchor="start" font-weight="normal" font-style="normal" fill="#333" stroke="#333" stroke-width="0.24" >Expansion</text>
<text x="129.00" y="374.28" font-size="5.75" text-anchor="start" font-weight="normal" font-style="normal" fill="#333" stroke="#333" stroke-width="0.24" >Mutation Type:</text>
<circle cx="132.5" cy="384.5" r="2.6" fill="#000"/>
<polygon points="129.4,395.3 132.75,389.7 136.1,395.3" fill="#000"/>
<text x="137.80" y="386.20" font-size="4.95" text-anchor="start" font-weight="normal" font-style="normal" fill="#333" stroke="#333" stroke-width="0.24" >Missense</text>
<text x="138.40" y="394.30" font-size="4.95" text-anchor="start" font-weight="normal" font-style="normal" fill="#333" stroke="#333" stroke-width="0.24" >Truncating</text>
<text x="220.40" y="14.68" font-size="11" text-anchor="start" font-weight="bold" font-style="normal" fill="#000" stroke="#000" stroke-width="0.24" >B</text>
<text x="297.50" y="26.78" font-size="7.2" text-anchor="middle" font-weight="normal" font-style="normal" fill="#1a1a1a" stroke="#1a1a1a" stroke-width="0.12" >PT255</text>
<line x1="254.70" y1="35.50" x2="325.80" y2="34.60" stroke="#777d8c" stroke-width="0.9" />
<line x1="254.70" y1="36.10" x2="325.80" y2="35.40" stroke="#a3a6b0" stroke-width="1.0" />
<line x1="254.70" y1="36.80" x2="325.80" y2="36.20" stroke="#a3a6b0" stroke-width="1.0" />
<line x1="254.70" y1="37.60" x2="325.80" y2="36.90" stroke="#c9cbd1" stroke-width="1.2" />
<line x1="254.70" y1="38.30" x2="325.80" y2="37.30" stroke="#c9cbd1" stroke-width="1.0" />
<line x1="254.70" y1="39.10" x2="325.80" y2="37.60" stroke="#d6d8dd" stroke-width="1.0" />
<line x1="254.70" y1="96.60" x2="325.80" y2="36.90" stroke="#c7007a" stroke-width="1.3" />
<line x1="254.70" y1="96.60" x2="325.80" y2="92.80" stroke="#c7007a" stroke-width="1.3" />
<line x1="251.10" y1="31.50" x2="251.10" y2="100.90" stroke="#1a1a1a" stroke-width="1.4" />
<line x1="248.10" y1="35.20" x2="251.10" y2="35.20" stroke="#111" stroke-width="0.9" />
<text x="245.30" y="36.95" font-size="5.1" text-anchor="end" font-weight="normal" font-style="normal" fill="#222" stroke="#222" stroke-width="0.14" >1.00</text>
<line x1="248.10" y1="50.50" x2="251.10" y2="50.50" stroke="#111" stroke-width="0.9" />
<text x="245.30" y="52.25" font-size="5.1" text-anchor="end" font-weight="normal" font-style="normal" fill="#222" stroke="#222" stroke-width="0.14" >0.75</text>
<line x1="248.10" y1="66.20" x2="251.10" y2="66.20" stroke="#111" stroke-width="0.9" />
<text x="245.30" y="67.95" font-size="5.1" text-anchor="end" font-weight="normal" font-style="normal" fill="#222" stroke="#222" stroke-width="0.14" >0.50</text>
<line x1="248.10" y1="81.50" x2="251.10" y2="81.50" stroke="#111" stroke-width="0.9" />
<text x="245.30" y="83.25" font-size="5.1" text-anchor="end" font-weight="normal" font-style="normal" fill="#222" stroke="#222" stroke-width="0.14" >0.25</text>
<line x1="248.10" y1="96.90" x2="251.10" y2="96.90" stroke="#111" stroke-width="0.9" />
<text x="245.30" y="98.65" font-size="5.1" text-anchor="end" font-weight="normal" font-style="normal" fill="#222" stroke="#222" stroke-width="0.14" >0.00</text>
<line x1="250.40" y1="100.20" x2="343.50" y2="100.20" stroke="#1a1a1a" stroke-width="1.3" />
<line x1="254.70" y1="100.20" x2="254.70" y2="103.10" stroke="#111" stroke-width="0.85" />
<line x1="325.80" y1="100.20" x2="325.80" y2="103.10" stroke="#111" stroke-width="0.85" />
<text x="254.70" y="111.79" font-size="5.2" text-anchor="middle" font-weight="normal" font-style="normal" fill="#2a2a2a" stroke="#2a2a2a" stroke-width="0.1" >T1</text>
<text x="325.80" y="111.79" font-size="5.2" text-anchor="middle" font-weight="normal" font-style="normal" fill="#2a2a2a" stroke="#2a2a2a" stroke-width="0.1" >P2</text>
<text x="0" y="0" font-size="8.4" font-weight="bold" fill="#2a2a2a" text-anchor="middle" transform="translate(228.09,65.90) rotate(-90) scale(0.5,1)">CCF</text>
<text x="327.50" y="30.62" font-size="5.0" text-anchor="start" font-weight="normal" font-style="italic" fill="#333" stroke="#333" stroke-width="0.24" >TP53</text>
<circle cx="343.00" cy="28.90" r="2.15" fill="#000"/>
<text x="327.50" y="35.52" font-size="5.0" text-anchor="start" font-weight="normal" font-style="italic" fill="#333" stroke="#333" stroke-width="0.24" >TP53</text>
<circle cx="343.00" cy="33.80" r="2.15" fill="#000"/>
<text x="327.50" y="40.52" font-size="5.0" text-anchor="start" font-weight="normal" font-style="italic" fill="#333" stroke="#333" stroke-width="0.24" >MS4A1</text>
<polygon points="345.50,40.71 347.70,36.89 349.90,40.71" fill="#000"/>
<text x="327.50" y="94.12" font-size="5.0" text-anchor="start" font-weight="normal" font-style="italic" fill="#333" stroke="#333" stroke-width="0.24" >MS4A1</text>
<circle cx="348.00" cy="92.40" r="2.15" fill="#000"/>
<line x1="250.70" y1="119.75" x2="337.50" y2="119.75" stroke="#505050" stroke-width="1.5" />
<polygon points="341.50,119.60 335.00,116.90 336.50,119.60 335.00,122.30" fill="#000"/>
<rect x="280.80" y="114.70" width="23.30" height="9.50" rx="0.3" fill="#fff" stroke="#1a1a1a" stroke-width="0.9"/>
<text x="292.45" y="120.53" font-size="3.15" text-anchor="middle" font-weight="normal" font-style="normal" fill="#555" stroke="#555" stroke-width="0.1" >R-CHOP</text>
<polygon points="253.60,119.60 254.70,117.70 255.80,119.60" fill="#000"/>
<polygon points="330.10,119.60 331.20,117.70 332.30,119.60" fill="#000"/>
<text x="368.80" y="14.98" font-size="11" text-anchor="start" font-weight="bold" font-style="normal" fill="#000" stroke="#000" stroke-width="0.24" >C</text>
<text x="440.20" y="27.88" font-size="7.2" text-anchor="middle" font-weight="normal" font-style="normal" fill="#1a1a1a" stroke="#1a1a1a" stroke-width="0.12" >1004-2032</text>
<line x1="403.90" y1="36.00" x2="477.70" y2="97.00" stroke="#c9cbd1" stroke-width="1.0" />
<line x1="403.90" y1="79.00" x2="477.70" y2="40.50" stroke="#c9cbd1" stroke-width="0.9" />
<line x1="403.90" y1="85.30" x2="477.70" y2="35.80" stroke="#c9cbd1" stroke-width="0.9" />
<line x1="403.90" y1="85.60" x2="477.70" y2="37.60" stroke="#c2c4cb" stroke-width="1.0" />
<line x1="403.90" y1="86.00" x2="477.70" y2="38.80" stroke="#c2c4cb" stroke-width="1.0" />
<line x1="403.90" y1="86.40" x2="477.70" y2="40.00" stroke="#c2c4cb" stroke-width="1.0" />
<line x1="403.90" y1="86.80" x2="477.70" y2="41.30" stroke="#c2c4cb" stroke-width="1.0" />
<line x1="403.90" y1="87.20" x2="477.70" y2="42.60" stroke="#c2c4cb" stroke-width="1.0" />
<line x1="403.90" y1="87.60" x2="477.70" y2="43.80" stroke="#c2c4cb" stroke-width="1.0" />
<line x1="403.90" y1="88.00" x2="477.70" y2="45.00" stroke="#c2c4cb" stroke-width="1.0" />
<line x1="403.90" y1="88.40" x2="477.70" y2="46.30" stroke="#c2c4cb" stroke-width="1.0" />
<line x1="403.90" y1="90.50" x2="477.70" y2="54.00" stroke="#c9cbd1" stroke-width="0.9" />
<line x1="403.90" y1="89.60" x2="477.70" y2="51.00" stroke="#a3a6b0" stroke-width="0.7" />
<line x1="403.90" y1="88.80" x2="477.70" y2="49.10" stroke="#c7007a" stroke-width="1.1" />
<line x1="403.90" y1="89.60" x2="477.70" y2="52.10" stroke="#c7007a" stroke-width="1.1" />
<line x1="403.90" y1="38.70" x2="477.70" y2="97.20" stroke="#60a4dd" stroke-width="1.7" />
<line x1="400.60" y1="32.30" x2="400.60" y2="102.30" stroke="#1a1a1a" stroke-width="1.4" />
<line x1="397.60" y1="35.60" x2="400.60" y2="35.60" stroke="#111" stroke-width="0.9" />
<text x="394.80" y="37.65" font-size="5.1" text-anchor="end" font-weight="normal" font-style="normal" fill="#222" stroke="#222" stroke-width="0.14" >1.00</text>
<line x1="397.60" y1="52.00" x2="400.60" y2="52.00" stroke="#111" stroke-width="0.9" />
<text x="394.80" y="53.75" font-size="5.1" text-anchor="end" font-weight="normal" font-style="normal" fill="#222" stroke="#222" stroke-width="0.14" >0.75</text>
<line x1="397.60" y1="70.20" x2="400.60" y2="70.20" stroke="#111" stroke-width="0.9" />
<text x="394.80" y="69.65" font-size="5.1" text-anchor="end" font-weight="normal" font-style="normal" fill="#222" stroke="#222" stroke-width="0.14" >0.50</text>
<line x1="397.60" y1="87.40" x2="400.60" y2="87.40" stroke="#111" stroke-width="0.9" />
<text x="394.80" y="85.75" font-size="5.1" text-anchor="end" font-weight="normal" font-style="normal" fill="#222" stroke="#222" stroke-width="0.14" >0.25</text>
<line x1="397.60" y1="99.20" x2="400.60" y2="99.20" stroke="#111" stroke-width="0.9" />
<text x="394.80" y="101.15" font-size="5.1" text-anchor="end" font-weight="normal" font-style="normal" fill="#222" stroke="#222" stroke-width="0.14" >0.00</text>
<line x1="399.90" y1="101.60" x2="479.60" y2="101.60" stroke="#1a1a1a" stroke-width="1.3" />
<line x1="403.90" y1="101.60" x2="403.90" y2="104.50" stroke="#111" stroke-width="0.85" />
<line x1="477.70" y1="101.60" x2="477.70" y2="104.50" stroke="#111" stroke-width="0.85" />
<text x="403.90" y="112.79" font-size="5.2" text-anchor="middle" font-weight="normal" font-style="normal" fill="#2a2a2a" stroke="#2a2a2a" stroke-width="0.1" >T1</text>
<text x="477.70" y="112.79" font-size="5.2" text-anchor="middle" font-weight="normal" font-style="normal" fill="#2a2a2a" stroke="#2a2a2a" stroke-width="0.1" >P2</text>
<text x="0" y="0" font-size="8.4" font-weight="bold" fill="#2a2a2a" text-anchor="middle" transform="translate(377.19,66.50) rotate(-90) scale(0.5,1)">CCF</text>
<text x="479.20" y="44.52" font-size="5.0" text-anchor="start" font-weight="normal" font-style="italic" fill="#333" stroke="#333" stroke-width="0.24" >MS4A1</text>
<circle cx="499.20" cy="42.80" r="2.15" fill="#000"/>
<text x="479.20" y="49.42" font-size="5.0" text-anchor="start" font-weight="normal" font-style="italic" fill="#333" stroke="#333" stroke-width="0.24" >MS4A1</text>
<circle cx="499.20" cy="47.70" r="2.15" fill="#000"/>
<text x="479.20" y="55.22" font-size="5.0" text-anchor="start" font-weight="normal" font-style="italic" fill="#333" stroke="#333" stroke-width="0.24" >MS4A1</text>
<circle cx="499.20" cy="53.50" r="2.15" fill="#000"/>
<text x="479.20" y="89.42" font-size="5.0" text-anchor="start" font-weight="normal" font-style="italic" fill="#333" stroke="#333" stroke-width="0.24" >KMT2D</text>
<circle cx="500.80" cy="87.70" r="2.15" fill="#000"/>
<text x="479.20" y="95.52" font-size="5.0" text-anchor="start" font-weight="normal" font-style="italic" fill="#333" stroke="#333" stroke-width="0.24" >KMT2D</text>
<circle cx="500.80" cy="93.80" r="2.15" fill="#000"/>
<text x="479.20" y="100.52" font-size="5.0" text-anchor="start" font-weight="normal" font-style="italic" fill="#333" stroke="#333" stroke-width="0.24" >KMT2D</text>
<circle cx="500.80" cy="98.80" r="2.15" fill="#000"/>
<line x1="375.40" y1="121.45" x2="481.30" y2="121.45" stroke="#505050" stroke-width="1.5" />
<polygon points="485.30,121.30 478.80,118.60 480.30,121.30 478.80,124.00" fill="#000"/>
<rect x="381.90" y="116.20" width="17.70" height="9.20" rx="0.3" fill="#fff" stroke="#1a1a1a" stroke-width="0.9"/>
<text x="390.75" y="119.81" font-size="2.95" text-anchor="middle" font-weight="normal" font-style="normal" fill="#555" stroke="#555" stroke-width="0.1" >R-CHOP ±</text>
<text x="390.75" y="124.01" font-size="2.95" text-anchor="middle" font-weight="normal" font-style="normal" fill="#555" stroke="#555" stroke-width="0.1" >others</text>
<rect x="426.40" y="116.80" width="23.80" height="8.90" rx="0.3" fill="#fff" stroke="#1a1a1a" stroke-width="0.9"/>
<text x="428.00" y="122.39" font-size="3.3" fill="#555" stroke="#555" stroke-width="0.1" textLength="20.40" lengthAdjust="spacingAndGlyphs">T<tspan font-size="2.2" dy="1.0">H</tspan><tspan dy="-1.0"> + Rituximab</tspan></text>
<polygon points="403.10,121.30 404.20,119.40 405.30,121.30" fill="#000"/>
<polygon points="476.60,121.30 477.70,119.40 478.80,121.30" fill="#000"/>
<text x="220.40" y="150.48" font-size="11" text-anchor="start" font-weight="bold" font-style="normal" fill="#000" stroke="#000" stroke-width="0.24" >D</text>
<text x="292.90" y="163.28" font-size="7.2" text-anchor="middle" font-weight="normal" font-style="normal" fill="#1a1a1a" stroke="#1a1a1a" stroke-width="0.12" >CABN-0003</text>
<line x1="255.20" y1="171.60" x2="331.40" y2="183.20" stroke="#c9cbd1" stroke-width="1.0" />
<line x1="255.20" y1="174.00" x2="331.40" y2="177.50" stroke="#c9cbd1" stroke-width="1.0" />
<line x1="255.20" y1="178.00" x2="331.40" y2="171.60" stroke="#c9cbd1" stroke-width="1.0" />
<line x1="255.20" y1="181.40" x2="331.40" y2="197.90" stroke="#c9cbd1" stroke-width="1.0" />
<line x1="255.20" y1="180.20" x2="331.40" y2="192.70" stroke="#a3a6b0" stroke-width="1.0" />
<line x1="255.20" y1="179.20" x2="331.40" y2="187.10" stroke="#777d8c" stroke-width="1.1" />
<line x1="255.20" y1="184.00" x2="331.40" y2="195.80" stroke="#777d8c" stroke-width="1.0" />
<line x1="255.20" y1="226.40" x2="331.40" y2="225.60" stroke="#c9cbd1" stroke-width="1.0" />
<line x1="255.20" y1="230.70" x2="331.40" y2="227.30" stroke="#c9cbd1" stroke-width="1.0" />
<line x1="255.20" y1="231.60" x2="331.40" y2="229.00" stroke="#c9cbd1" stroke-width="1.0" />
<line x1="255.20" y1="230.40" x2="331.40" y2="216.60" stroke="#c9cbd1" stroke-width="1.0" />
<line x1="255.20" y1="232.70" x2="331.40" y2="220.00" stroke="#c7007a" stroke-width="1.2" />
<line x1="251.20" y1="168.50" x2="251.20" y2="236.90" stroke="#1a1a1a" stroke-width="1.4" />
<line x1="248.20" y1="171.60" x2="251.20" y2="171.60" stroke="#111" stroke-width="0.9" />
<text x="245.40" y="173.35" font-size="5.1" text-anchor="end" font-weight="normal" font-style="normal" fill="#222" stroke="#222" stroke-width="0.14" >1.00</text>
<line x1="248.20" y1="187.50" x2="251.20" y2="187.50" stroke="#111" stroke-width="0.9" />
<text x="245.40" y="189.25" font-size="5.1" text-anchor="end" font-weight="normal" font-style="normal" fill="#222" stroke="#222" stroke-width="0.14" >0.75</text>
<line x1="248.20" y1="203.20" x2="251.20" y2="203.20" stroke="#111" stroke-width="0.9" />
<text x="245.40" y="204.95" font-size="5.1" text-anchor="end" font-weight="normal" font-style="normal" fill="#222" stroke="#222" stroke-width="0.14" >0.50</text>
<line x1="248.20" y1="218.90" x2="251.20" y2="218.90" stroke="#111" stroke-width="0.9" />
<text x="245.40" y="220.65" font-size="5.1" text-anchor="end" font-weight="normal" font-style="normal" fill="#222" stroke="#222" stroke-width="0.14" >0.25</text>
<line x1="248.20" y1="234.70" x2="251.20" y2="234.70" stroke="#111" stroke-width="0.9" />
<text x="245.40" y="236.45" font-size="5.1" text-anchor="end" font-weight="normal" font-style="normal" fill="#222" stroke="#222" stroke-width="0.14" >0.00</text>
<line x1="250.50" y1="236.20" x2="334.50" y2="236.20" stroke="#1a1a1a" stroke-width="1.3" />
<line x1="255.20" y1="236.20" x2="255.20" y2="239.10" stroke="#111" stroke-width="0.85" />
<line x1="331.40" y1="236.20" x2="331.40" y2="239.10" stroke="#111" stroke-width="0.85" />
<text x="255.20" y="247.39" font-size="5.2" text-anchor="middle" font-weight="normal" font-style="normal" fill="#2a2a2a" stroke="#2a2a2a" stroke-width="0.1" >T1</text>
<text x="331.40" y="247.39" font-size="5.2" text-anchor="middle" font-weight="normal" font-style="normal" fill="#2a2a2a" stroke="#2a2a2a" stroke-width="0.1" >P2</text>
<text x="0" y="0" font-size="8.4" font-weight="bold" fill="#2a2a2a" text-anchor="middle" transform="translate(227.69,202.50) rotate(-90) scale(0.5,1)">CCF</text>
<text x="332.80" y="188.62" font-size="5.0" text-anchor="start" font-weight="normal" font-style="italic" fill="#333" stroke="#333" stroke-width="0.24" >TP53</text>
<circle cx="348.20" cy="186.90" r="2.15" fill="#000"/>
<text x="332.80" y="196.62" font-size="5.0" text-anchor="start" font-weight="normal" font-style="italic" fill="#333" stroke="#333" stroke-width="0.24" >KMT2D</text>
<polygon points="350.80,196.81 353.00,192.99 355.20,196.81" fill="#000"/>
<text x="332.80" y="221.72" font-size="5.0" text-anchor="start" font-weight="normal" font-style="italic" fill="#333" stroke="#333" stroke-width="0.24" >MS4A1</text>
<circle cx="352.30" cy="220.00" r="2.15" fill="#000"/>
<line x1="250.70" y1="255.45" x2="338.10" y2="255.45" stroke="#505050" stroke-width="1.5" />
<polygon points="342.10,255.30 335.60,252.60 337.10,255.30 335.60,258.00" fill="#000"/>
<rect x="280.80" y="250.70" width="23.60" height="9.20" rx="0.3" fill="#fff" stroke="#1a1a1a" stroke-width="0.9"/>
<text x="292.60" y="256.38" font-size="3.15" text-anchor="middle" font-weight="normal" font-style="normal" fill="#555" stroke="#555" stroke-width="0.1" >R-CHOP</text>
<polygon points="254.10,255.30 255.20,253.40 256.30,255.30" fill="#000"/>
<polygon points="330.30,255.30 331.40,253.40 332.50,255.30" fill="#000"/>
<text x="369.30" y="149.58" font-size="11" text-anchor="start" font-weight="bold" font-style="normal" fill="#000" stroke="#000" stroke-width="0.24" >E</text>
<text x="441.40" y="162.08" font-size="7.2" text-anchor="middle" font-weight="normal" font-style="normal" fill="#1a1a1a" stroke="#1a1a1a" stroke-width="0.12" >1001-2026</text>
<line x1="403.90" y1="175.00" x2="477.30" y2="231.20" stroke="#b3b6bf" stroke-width="0.9" />
<line x1="403.90" y1="213.40" x2="477.30" y2="231.20" stroke="#b3b6bf" stroke-width="0.9" />
<line x1="403.90" y1="220.50" x2="477.30" y2="232.00" stroke="#b3b6bf" stroke-width="0.9" />
<line x1="403.90" y1="170.10" x2="477.30" y2="172.40" stroke="#777d8c" stroke-width="1.0" />
<line x1="403.90" y1="172.00" x2="477.30" y2="170.10" stroke="#777d8c" stroke-width="1.0" />
<line x1="403.90" y1="232.90" x2="477.30" y2="230.90" stroke="#d8509c" stroke-width="1.6" />
<line x1="400.50" y1="167.30" x2="400.50" y2="237.00" stroke="#1a1a1a" stroke-width="1.4" />
<line x1="397.50" y1="170.40" x2="400.50" y2="170.40" stroke="#111" stroke-width="0.9" />
<text x="394.70" y="172.15" font-size="5.1" text-anchor="end" font-weight="normal" font-style="normal" fill="#222" stroke="#222" stroke-width="0.14" >1.00</text>
<line x1="397.50" y1="186.20" x2="400.50" y2="186.20" stroke="#111" stroke-width="0.9" />
<text x="394.70" y="187.95" font-size="5.1" text-anchor="end" font-weight="normal" font-style="normal" fill="#222" stroke="#222" stroke-width="0.14" >0.75</text>
<line x1="397.50" y1="202.40" x2="400.50" y2="202.40" stroke="#111" stroke-width="0.9" />
<text x="394.70" y="204.15" font-size="5.1" text-anchor="end" font-weight="normal" font-style="normal" fill="#222" stroke="#222" stroke-width="0.14" >0.50</text>
<line x1="397.50" y1="218.40" x2="400.50" y2="218.40" stroke="#111" stroke-width="0.9" />
<text x="394.70" y="220.15" font-size="5.1" text-anchor="end" font-weight="normal" font-style="normal" fill="#222" stroke="#222" stroke-width="0.14" >0.25</text>
<line x1="397.50" y1="234.50" x2="400.50" y2="234.50" stroke="#111" stroke-width="0.9" />
<text x="394.70" y="236.25" font-size="5.1" text-anchor="end" font-weight="normal" font-style="normal" fill="#222" stroke="#222" stroke-width="0.14" >0.00</text>
<line x1="399.80" y1="236.30" x2="479.20" y2="236.30" stroke="#1a1a1a" stroke-width="1.3" />
<line x1="403.90" y1="236.30" x2="403.90" y2="239.20" stroke="#111" stroke-width="0.85" />
<line x1="477.30" y1="236.30" x2="477.30" y2="239.20" stroke="#111" stroke-width="0.85" />
<text x="403.90" y="247.39" font-size="5.2" text-anchor="middle" font-weight="normal" font-style="normal" fill="#2a2a2a" stroke="#2a2a2a" stroke-width="0.1" >T1</text>
<text x="477.30" y="247.39" font-size="5.2" text-anchor="middle" font-weight="normal" font-style="normal" fill="#2a2a2a" stroke="#2a2a2a" stroke-width="0.1" >P2</text>
<text x="0" y="0" font-size="8.4" font-weight="bold" fill="#2a2a2a" text-anchor="middle" transform="translate(376.99,201.80) rotate(-90) scale(0.5,1)">CCF</text>
<text x="478.20" y="171.22" font-size="5.0" text-anchor="start" font-weight="normal" font-style="italic" fill="#333" stroke="#333" stroke-width="0.24" >MS4A1</text>
<polygon points="495.50,171.41 497.70,167.59 499.90,171.41" fill="#000"/>
<text x="478.20" y="176.02" font-size="5.0" text-anchor="start" font-weight="normal" font-style="italic" fill="#333" stroke="#333" stroke-width="0.24" >TP53</text>
<circle cx="493.80" cy="174.30" r="2.15" fill="#000"/>
<text x="478.20" y="231.92" font-size="5.0" text-anchor="start" font-weight="normal" font-style="italic" fill="#333" stroke="#333" stroke-width="0.24" >TP53</text>
<circle cx="493.80" cy="230.20" r="2.15" fill="#000"/>
<line x1="375.00" y1="255.95" x2="481.40" y2="255.95" stroke="#505050" stroke-width="1.5" />
<polygon points="485.40,255.80 478.90,253.10 480.40,255.80 478.90,258.50" fill="#000"/>
<rect x="381.60" y="251.60" width="17.20" height="8.40" rx="0.3" fill="#fff" stroke="#1a1a1a" stroke-width="0.9"/>
<text x="390.20" y="254.81" font-size="2.95" text-anchor="middle" font-weight="normal" font-style="normal" fill="#555" stroke="#555" stroke-width="0.1" >R-CHOP ±</text>
<text x="390.20" y="259.01" font-size="2.95" text-anchor="middle" font-weight="normal" font-style="normal" fill="#555" stroke="#555" stroke-width="0.1" >others</text>
<rect x="425.70" y="251.00" width="24.40" height="9.20" rx="0.3" fill="#fff" stroke="#1a1a1a" stroke-width="0.9"/>
<text x="427.30" y="256.74" font-size="3.3" fill="#555" stroke="#555" stroke-width="0.1" textLength="21.00" lengthAdjust="spacingAndGlyphs">T<tspan font-size="2.2" dy="1.0">H</tspan><tspan dy="-1.0"> + Rituximab</tspan></text>
<polygon points="402.80,255.80 403.90,253.90 405.00,255.80" fill="#000"/>
<polygon points="476.20,255.80 477.30,253.90 478.40,255.80" fill="#000"/>
<text x="220.40" y="287.18" font-size="11" text-anchor="start" font-weight="bold" font-style="normal" fill="#000" stroke="#000" stroke-width="0.24" >F</text>
<text x="292.40" y="300.28" font-size="7.2" text-anchor="middle" font-weight="normal" font-style="normal" fill="#1a1a1a" stroke="#1a1a1a" stroke-width="0.12" >CARM-0001</text>
<line x1="255.20" y1="318.20" x2="331.00" y2="316.40" stroke="#c9cbd1" stroke-width="1.0" />
<line x1="255.20" y1="319.40" x2="331.00" y2="317.80" stroke="#c9cbd1" stroke-width="1.0" />
<line x1="255.20" y1="320.80" x2="331.00" y2="319.00" stroke="#c9cbd1" stroke-width="1.0" />
<line x1="255.20" y1="322.10" x2="331.00" y2="320.80" stroke="#c9cbd1" stroke-width="1.0" />
<line x1="255.20" y1="311.60" x2="331.00" y2="308.70" stroke="#777d8c" stroke-width="1.0" />
<line x1="255.20" y1="315.60" x2="331.00" y2="311.80" stroke="#777d8c" stroke-width="1.0" />
<line x1="255.20" y1="355.00" x2="331.00" y2="368.90" stroke="#c9cbd1" stroke-width="1.0" />
<line x1="255.20" y1="368.30" x2="331.00" y2="339.40" stroke="#c7007a" stroke-width="1.1" />
<line x1="250.90" y1="305.50" x2="250.90" y2="372.40" stroke="#1a1a1a" stroke-width="1.4" />
<line x1="247.90" y1="308.30" x2="250.90" y2="308.30" stroke="#111" stroke-width="0.9" />
<text x="245.10" y="310.05" font-size="5.1" text-anchor="end" font-weight="normal" font-style="normal" fill="#222" stroke="#222" stroke-width="0.14" >1.00</text>
<line x1="247.90" y1="323.60" x2="250.90" y2="323.60" stroke="#111" stroke-width="0.9" />
<text x="245.10" y="325.35" font-size="5.1" text-anchor="end" font-weight="normal" font-style="normal" fill="#222" stroke="#222" stroke-width="0.14" >0.75</text>
<line x1="247.90" y1="338.50" x2="250.90" y2="338.50" stroke="#111" stroke-width="0.9" />
<text x="245.10" y="340.25" font-size="5.1" text-anchor="end" font-weight="normal" font-style="normal" fill="#222" stroke="#222" stroke-width="0.14" >0.50</text>
<line x1="247.90" y1="353.70" x2="250.90" y2="353.70" stroke="#111" stroke-width="0.9" />
<text x="245.10" y="355.45" font-size="5.1" text-anchor="end" font-weight="normal" font-style="normal" fill="#222" stroke="#222" stroke-width="0.14" >0.25</text>
<line x1="247.90" y1="368.90" x2="250.90" y2="368.90" stroke="#111" stroke-width="0.9" />
<text x="245.10" y="370.65" font-size="5.1" text-anchor="end" font-weight="normal" font-style="normal" fill="#222" stroke="#222" stroke-width="0.14" >0.00</text>
<line x1="250.20" y1="371.70" x2="334.00" y2="371.70" stroke="#1a1a1a" stroke-width="1.3" />
<line x1="255.20" y1="371.70" x2="255.20" y2="374.60" stroke="#111" stroke-width="0.85" />
<line x1="331.00" y1="371.70" x2="331.00" y2="374.60" stroke="#111" stroke-width="0.85" />
<text x="255.20" y="382.99" font-size="5.2" text-anchor="middle" font-weight="normal" font-style="normal" fill="#2a2a2a" stroke="#2a2a2a" stroke-width="0.1" >T1</text>
<text x="331.00" y="382.99" font-size="5.2" text-anchor="middle" font-weight="normal" font-style="normal" fill="#2a2a2a" stroke="#2a2a2a" stroke-width="0.1" >P2</text>
<text x="0" y="0" font-size="8.4" font-weight="bold" fill="#2a2a2a" text-anchor="middle" transform="translate(227.39,338.80) rotate(-90) scale(0.5,1)">CCF</text>
<text x="332.30" y="309.42" font-size="5.0" text-anchor="start" font-weight="normal" font-style="italic" fill="#333" stroke="#333" stroke-width="0.24" >CREBBP</text>
<circle cx="357.70" cy="307.70" r="2.15" fill="#000"/>
<text x="332.30" y="314.32" font-size="5.0" text-anchor="start" font-weight="normal" font-style="italic" fill="#333" stroke="#333" stroke-width="0.24" >KMT2D</text>
<polygon points="351.60,314.51 353.80,310.69 356.00,314.51" fill="#000"/>
<text x="332.30" y="337.52" font-size="5.0" text-anchor="start" font-weight="normal" font-style="italic" fill="#333" stroke="#333" stroke-width="0.24" >FOXO1</text>
<circle cx="353.80" cy="335.80" r="2.15" fill="#000"/>
<text x="332.30" y="343.22" font-size="5.0" text-anchor="start" font-weight="normal" font-style="italic" fill="#333" stroke="#333" stroke-width="0.24" >TP53</text>
<circle cx="348.50" cy="341.50" r="2.15" fill="#000"/>
<line x1="250.70" y1="391.45" x2="338.10" y2="391.45" stroke="#505050" stroke-width="1.5" />
<polygon points="342.10,391.30 335.60,388.60 337.10,391.30 335.60,394.00" fill="#000"/>
<rect x="280.90" y="386.60" width="23.50" height="9.10" rx="0.3" fill="#fff" stroke="#1a1a1a" stroke-width="0.9"/>
<text x="292.65" y="392.23" font-size="3.15" text-anchor="middle" font-weight="normal" font-style="normal" fill="#555" stroke="#555" stroke-width="0.1" >R-CHOP</text>
<polygon points="254.10,391.30 255.20,389.40 256.30,391.30" fill="#000"/>
<polygon points="329.90,391.30 331.00,389.40 332.10,391.30" fill="#000"/>
<text x="368.80" y="284.58" font-size="11" text-anchor="start" font-weight="bold" font-style="normal" fill="#000" stroke="#000" stroke-width="0.24" >G</text>
<text x="441.70" y="296.78" font-size="7.2" text-anchor="middle" font-weight="normal" font-style="normal" fill="#1a1a1a" stroke="#1a1a1a" stroke-width="0.12" >1010-2010</text>
<line x1="403.90" y1="304.90" x2="479.50" y2="304.90" stroke="#c9cbd1" stroke-width="1.5" />
<line x1="403.90" y1="309.80" x2="479.50" y2="309.80" stroke="#a3a6b0" stroke-width="1.8" />
<line x1="403.90" y1="323.10" x2="479.50" y2="310.10" stroke="#c9cbd1" stroke-width="1.0" />
<line x1="403.90" y1="333.50" x2="479.50" y2="366.30" stroke="#c9cbd1" stroke-width="1.0" />
<line x1="403.90" y1="337.40" x2="479.50" y2="366.90" stroke="#a3a6b0" stroke-width="1.0" />
<line x1="403.90" y1="338.30" x2="479.50" y2="367.20" stroke="#60a4dd" stroke-width="1.45" />
<line x1="403.90" y1="359.40" x2="479.50" y2="319.60" stroke="#c7007a" stroke-width="1.1" />
<line x1="400.30" y1="302.00" x2="400.30" y2="371.20" stroke="#1a1a1a" stroke-width="1.4" />
<line x1="397.30" y1="304.70" x2="400.30" y2="304.70" stroke="#111" stroke-width="0.9" />
<text x="394.50" y="306.45" font-size="5.1" text-anchor="end" font-weight="normal" font-style="normal" fill="#222" stroke="#222" stroke-width="0.14" >1.00</text>
<line x1="397.30" y1="320.50" x2="400.30" y2="320.50" stroke="#111" stroke-width="0.9" />
<text x="394.50" y="322.25" font-size="5.1" text-anchor="end" font-weight="normal" font-style="normal" fill="#222" stroke="#222" stroke-width="0.14" >0.75</text>
<line x1="397.30" y1="336.50" x2="400.30" y2="336.50" stroke="#111" stroke-width="0.9" />
<text x="394.50" y="338.25" font-size="5.1" text-anchor="end" font-weight="normal" font-style="normal" fill="#222" stroke="#222" stroke-width="0.14" >0.50</text>
<line x1="397.30" y1="352.20" x2="400.30" y2="352.20" stroke="#111" stroke-width="0.9" />
<text x="394.50" y="353.95" font-size="5.1" text-anchor="end" font-weight="normal" font-style="normal" fill="#222" stroke="#222" stroke-width="0.14" >0.25</text>
<line x1="397.30" y1="367.90" x2="400.30" y2="367.90" stroke="#111" stroke-width="0.9" />
<text x="394.50" y="369.65" font-size="5.1" text-anchor="end" font-weight="normal" font-style="normal" fill="#222" stroke="#222" stroke-width="0.14" >0.00</text>
<line x1="399.60" y1="370.50" x2="481.50" y2="370.50" stroke="#1a1a1a" stroke-width="1.3" />
<line x1="403.90" y1="370.50" x2="403.90" y2="373.40" stroke="#111" stroke-width="0.85" />
<line x1="479.50" y1="370.50" x2="479.50" y2="373.40" stroke="#111" stroke-width="0.85" />
<text x="403.90" y="381.09" font-size="5.2" text-anchor="middle" font-weight="normal" font-style="normal" fill="#2a2a2a" stroke="#2a2a2a" stroke-width="0.1" >T1</text>
<text x="479.50" y="381.09" font-size="5.2" text-anchor="middle" font-weight="normal" font-style="normal" fill="#2a2a2a" stroke="#2a2a2a" stroke-width="0.1" >P2</text>
<text x="0" y="0" font-size="8.4" font-weight="bold" fill="#2a2a2a" text-anchor="middle" transform="translate(376.99,336.40) rotate(-90) scale(0.5,1)">CCF</text>
<text x="484.30" y="310.92" font-size="5.0" text-anchor="start" font-weight="normal" font-style="italic" fill="#333" stroke="#333" stroke-width="0.24" >TP53</text>
<circle cx="501.50" cy="309.20" r="2.15" fill="#000"/>
<text x="484.30" y="320.12" font-size="5.0" text-anchor="start" font-weight="normal" font-style="italic" fill="#333" stroke="#333" stroke-width="0.24" >KMT2D</text>
<circle cx="506.50" cy="318.40" r="2.15" fill="#000"/>
<text x="484.30" y="356.02" font-size="5.0" text-anchor="start" font-weight="normal" font-style="italic" fill="#333" stroke="#333" stroke-width="0.24" >KMT2D</text>
<circle cx="507.00" cy="354.30" r="2.15" fill="#000"/>
<text x="484.30" y="361.02" font-size="5.0" text-anchor="start" font-weight="normal" font-style="italic" fill="#333" stroke="#333" stroke-width="0.24" >KMT2D</text>
<circle cx="507.00" cy="359.30" r="2.15" fill="#000"/>
<text x="484.30" y="366.32" font-size="5.0" text-anchor="start" font-weight="normal" font-style="italic" fill="#333" stroke="#333" stroke-width="0.24" >CREBBP</text>
<circle cx="510.80" cy="364.60" r="2.15" fill="#000"/>
<text x="484.30" y="371.42" font-size="5.0" text-anchor="start" font-weight="normal" font-style="italic" fill="#333" stroke="#333" stroke-width="0.24" >CREBBP</text>
<circle cx="510.80" cy="369.70" r="2.15" fill="#000"/>
<line x1="375.00" y1="390.45" x2="481.40" y2="390.45" stroke="#505050" stroke-width="1.5" />
<polygon points="485.40,390.30 478.90,387.60 480.40,390.30 478.90,393.00" fill="#000"/>
<rect x="381.60" y="385.40" width="17.60" height="9.20" rx="0.3" fill="#fff" stroke="#1a1a1a" stroke-width="0.9"/>
<text x="390.40" y="389.01" font-size="2.95" text-anchor="middle" font-weight="normal" font-style="normal" fill="#555" stroke="#555" stroke-width="0.1" >R-CHOP ±</text>
<text x="390.40" y="393.21" font-size="2.95" text-anchor="middle" font-weight="normal" font-style="normal" fill="#555" stroke="#555" stroke-width="0.1" >others</text>
<rect x="426.20" y="385.60" width="23.90" height="9.10" rx="0.3" fill="#fff" stroke="#1a1a1a" stroke-width="0.9"/>
<text x="427.80" y="391.29" font-size="3.3" fill="#555" stroke="#555" stroke-width="0.1" textLength="20.50" lengthAdjust="spacingAndGlyphs">T<tspan font-size="2.2" dy="1.0">H</tspan><tspan dy="-1.0"> + Rituximab</tspan></text>
<polygon points="402.80,390.30 403.90,388.40 405.00,390.30" fill="#000"/>
<polygon points="478.40,390.30 479.50,388.40 480.60,390.30" fill="#000"/>
<text x="220.80" y="419.28" font-size="11" text-anchor="start" font-weight="bold" font-style="normal" fill="#000" stroke="#000" stroke-width="0.24" >H</text>
<text x="292.10" y="431.78" font-size="7.2" text-anchor="middle" font-weight="normal" font-style="normal" fill="#1a1a1a" stroke="#1a1a1a" stroke-width="0.12" >8005-2003</text>
<line x1="255.20" y1="441.00" x2="329.90" y2="442.40" stroke="#c9cbd1" stroke-width="1.0" />
<line x1="255.20" y1="442.70" x2="329.90" y2="444.10" stroke="#c9cbd1" stroke-width="1.0" />
<line x1="255.20" y1="444.10" x2="329.90" y2="442.70" stroke="#c9cbd1" stroke-width="1.0" />
<line x1="255.20" y1="446.70" x2="329.90" y2="446.20" stroke="#c9cbd1" stroke-width="1.0" />
<line x1="255.20" y1="451.40" x2="329.90" y2="450.20" stroke="#c9cbd1" stroke-width="1.0" />
<line x1="255.20" y1="462.80" x2="329.90" y2="449.30" stroke="#c9cbd1" stroke-width="1.0" />
<line x1="255.20" y1="451.90" x2="329.90" y2="458.30" stroke="#c9cbd1" stroke-width="1.0" />
<line x1="255.20" y1="482.50" x2="329.90" y2="489.40" stroke="#c9cbd1" stroke-width="1.0" />
<line x1="255.20" y1="499.80" x2="329.90" y2="498.60" stroke="#c9cbd1" stroke-width="1.6" />
<line x1="255.20" y1="442.00" x2="329.90" y2="501.20" stroke="#a3a6b0" stroke-width="0.9" />
<line x1="255.20" y1="449.00" x2="329.90" y2="500.20" stroke="#a3a6b0" stroke-width="0.9" />
<line x1="255.20" y1="440.10" x2="329.90" y2="440.10" stroke="#777d8c" stroke-width="1.1" />
<line x1="255.20" y1="457.60" x2="329.90" y2="446.70" stroke="#777d8c" stroke-width="1.0" />
<line x1="251.00" y1="437.00" x2="251.00" y2="506.00" stroke="#1a1a1a" stroke-width="1.4" />
<line x1="248.00" y1="440.30" x2="251.00" y2="440.30" stroke="#111" stroke-width="0.9" />
<text x="245.20" y="442.05" font-size="5.1" text-anchor="end" font-weight="normal" font-style="normal" fill="#222" stroke="#222" stroke-width="0.14" >1.00</text>
<line x1="248.00" y1="456.40" x2="251.00" y2="456.40" stroke="#111" stroke-width="0.9" />
<text x="245.20" y="458.15" font-size="5.1" text-anchor="end" font-weight="normal" font-style="normal" fill="#222" stroke="#222" stroke-width="0.14" >0.75</text>
<line x1="248.00" y1="472.50" x2="251.00" y2="472.50" stroke="#111" stroke-width="0.9" />
<text x="245.20" y="474.25" font-size="5.1" text-anchor="end" font-weight="normal" font-style="normal" fill="#222" stroke="#222" stroke-width="0.14" >0.50</text>
<line x1="248.00" y1="488.40" x2="251.00" y2="488.40" stroke="#111" stroke-width="0.9" />
<text x="245.20" y="490.15" font-size="5.1" text-anchor="end" font-weight="normal" font-style="normal" fill="#222" stroke="#222" stroke-width="0.14" >0.25</text>
<line x1="248.00" y1="504.50" x2="251.00" y2="504.50" stroke="#111" stroke-width="0.9" />
<text x="245.20" y="506.25" font-size="5.1" text-anchor="end" font-weight="normal" font-style="normal" fill="#222" stroke="#222" stroke-width="0.14" >0.00</text>
<line x1="250.30" y1="505.30" x2="332.50" y2="505.30" stroke="#1a1a1a" stroke-width="1.3" />
<line x1="255.20" y1="505.30" x2="255.20" y2="508.20" stroke="#111" stroke-width="0.85" />
<line x1="329.90" y1="505.30" x2="329.90" y2="508.20" stroke="#111" stroke-width="0.85" />
<text x="255.20" y="515.99" font-size="5.2" text-anchor="middle" font-weight="normal" font-style="normal" fill="#2a2a2a" stroke="#2a2a2a" stroke-width="0.1" >T1</text>
<text x="329.90" y="515.99" font-size="5.2" text-anchor="middle" font-weight="normal" font-style="normal" fill="#2a2a2a" stroke="#2a2a2a" stroke-width="0.1" >P2</text>
<text x="0" y="0" font-size="8.4" font-weight="bold" fill="#2a2a2a" text-anchor="middle" transform="translate(227.39,471.50) rotate(-90) scale(0.5,1)">CCF</text>
<text x="331.20" y="442.22" font-size="5.0" text-anchor="start" font-weight="normal" font-style="italic" fill="#333" stroke="#333" stroke-width="0.24" >TP53</text>
<circle cx="347.70" cy="440.50" r="2.15" fill="#000"/>
<text x="331.20" y="448.22" font-size="5.0" text-anchor="start" font-weight="normal" font-style="italic" fill="#333" stroke="#333" stroke-width="0.24" >CREBBP</text>
<circle cx="357.20" cy="446.50" r="2.15" fill="#000"/>
<line x1="226.00" y1="524.15" x2="332.30" y2="524.15" stroke="#505050" stroke-width="1.5" />
<polygon points="336.30,524.00 329.80,521.30 331.30,524.00 329.80,526.70" fill="#000"/>
<rect x="232.60" y="518.90" width="17.70" height="9.20" rx="0.3" fill="#fff" stroke="#1a1a1a" stroke-width="0.9"/>
<text x="241.45" y="522.51" font-size="2.95" text-anchor="middle" font-weight="normal" font-style="normal" fill="#555" stroke="#555" stroke-width="0.1" >R-CHOP ±</text>
<text x="241.45" y="526.71" font-size="2.95" text-anchor="middle" font-weight="normal" font-style="normal" fill="#555" stroke="#555" stroke-width="0.1" >others</text>
<rect x="277.00" y="519.40" width="23.90" height="9.40" rx="0.3" fill="#fff" stroke="#1a1a1a" stroke-width="0.9"/>
<text x="278.60" y="525.24" font-size="3.3" fill="#555" stroke="#555" stroke-width="0.1" textLength="20.50" lengthAdjust="spacingAndGlyphs">T<tspan font-size="2.2" dy="1.0">H</tspan><tspan dy="-1.0"> + Rituximab</tspan></text>
<polygon points="254.10,524.00 255.20,522.10 256.30,524.00" fill="#000"/>
<polygon points="328.80,524.00 329.90,522.10 331.00,524.00" fill="#000"/>
<text x="369.30" y="420.28" font-size="11" text-anchor="start" font-weight="bold" font-style="normal" fill="#000" stroke="#000" stroke-width="0.24" >I</text>
<text x="441.50" y="433.68" font-size="7.2" text-anchor="middle" font-weight="normal" font-style="normal" fill="#1a1a1a" stroke="#1a1a1a" stroke-width="0.12" >CAMP-0005</text>
<line x1="404.20" y1="497.20" x2="479.70" y2="459.80" stroke="#b6b9c2" stroke-width="0.9" />
<line x1="404.20" y1="499.00" x2="479.70" y2="501.60" stroke="#c9cbd1" stroke-width="0.9" />
<line x1="404.20" y1="500.30" x2="479.70" y2="502.20" stroke="#c9cbd1" stroke-width="0.9" />
<line x1="404.20" y1="502.50" x2="479.70" y2="502.80" stroke="#c9cbd1" stroke-width="0.9" />
<line x1="404.20" y1="441.50" x2="479.70" y2="441.50" stroke="#777d8c" stroke-width="1.0" />
<line x1="404.20" y1="455.80" x2="479.70" y2="466.90" stroke="#777d8c" stroke-width="1.0" />
<line x1="400.70" y1="438.50" x2="400.70" y2="506.50" stroke="#1a1a1a" stroke-width="1.4" />
<line x1="397.70" y1="441.60" x2="400.70" y2="441.60" stroke="#111" stroke-width="0.9" />
<text x="394.90" y="443.35" font-size="5.1" text-anchor="end" font-weight="normal" font-style="normal" fill="#222" stroke="#222" stroke-width="0.14" >1.00</text>
<line x1="397.70" y1="457.00" x2="400.70" y2="457.00" stroke="#111" stroke-width="0.9" />
<text x="394.90" y="458.75" font-size="5.1" text-anchor="end" font-weight="normal" font-style="normal" fill="#222" stroke="#222" stroke-width="0.14" >0.75</text>
<line x1="397.70" y1="472.50" x2="400.70" y2="472.50" stroke="#111" stroke-width="0.9" />
<text x="394.90" y="474.25" font-size="5.1" text-anchor="end" font-weight="normal" font-style="normal" fill="#222" stroke="#222" stroke-width="0.14" >0.50</text>
<line x1="397.70" y1="488.00" x2="400.70" y2="488.00" stroke="#111" stroke-width="0.9" />
<text x="394.90" y="489.75" font-size="5.1" text-anchor="end" font-weight="normal" font-style="normal" fill="#222" stroke="#222" stroke-width="0.14" >0.25</text>
<line x1="397.70" y1="503.40" x2="400.70" y2="503.40" stroke="#111" stroke-width="0.9" />
<text x="394.90" y="505.15" font-size="5.1" text-anchor="end" font-weight="normal" font-style="normal" fill="#222" stroke="#222" stroke-width="0.14" >0.00</text>
<line x1="400.00" y1="505.80" x2="482.00" y2="505.80" stroke="#1a1a1a" stroke-width="1.3" />
<line x1="404.20" y1="505.80" x2="404.20" y2="508.70" stroke="#111" stroke-width="0.85" />
<line x1="479.70" y1="505.80" x2="479.70" y2="508.70" stroke="#111" stroke-width="0.85" />
<text x="404.20" y="516.39" font-size="5.2" text-anchor="middle" font-weight="normal" font-style="normal" fill="#2a2a2a" stroke="#2a2a2a" stroke-width="0.1" >T1</text>
<text x="479.70" y="516.39" font-size="5.2" text-anchor="middle" font-weight="normal" font-style="normal" fill="#2a2a2a" stroke="#2a2a2a" stroke-width="0.1" >P2</text>
<text x="0" y="0" font-size="8.4" font-weight="bold" fill="#2a2a2a" text-anchor="middle" transform="translate(377.09,472.30) rotate(-90) scale(0.5,1)">CCF</text>
<text x="480.30" y="442.82" font-size="5.0" text-anchor="start" font-weight="normal" font-style="italic" fill="#333" stroke="#333" stroke-width="0.24" >KMT2D</text>
<polygon points="499.40,443.01 501.60,439.19 503.80,443.01" fill="#000"/>
<text x="480.30" y="468.62" font-size="5.0" text-anchor="start" font-weight="normal" font-style="italic" fill="#333" stroke="#333" stroke-width="0.24" >TP53</text>
<circle cx="496.70" cy="466.90" r="2.15" fill="#000"/>
<line x1="400.00" y1="524.75" x2="487.30" y2="524.75" stroke="#505050" stroke-width="1.5" />
<polygon points="491.30,524.60 484.80,521.90 486.30,524.60 484.80,527.30" fill="#000"/>
<rect x="429.70" y="519.70" width="23.60" height="9.10" rx="0.3" fill="#fff" stroke="#1a1a1a" stroke-width="0.9"/>
<text x="441.50" y="525.33" font-size="3.15" text-anchor="middle" font-weight="normal" font-style="normal" fill="#555" stroke="#555" stroke-width="0.1" >R-CHOP</text>
<polygon points="403.10,524.60 404.20,522.70 405.30,524.60" fill="#000"/>
<polygon points="478.60,524.60 479.70,522.70 480.80,524.60" fill="#000"/>
</g>
<rect x="0" y="0" width="520" height="1.2" fill="#000"/>
<rect x="0" y="0" width="1.2" height="535" fill="#000"/>
<rect x="518.5" y="0" width="1.5" height="535" fill="#000"/>
<rect x="0" y="533.5" width="520" height="1.5" fill="#000"/>
</svg></div></body></html>
